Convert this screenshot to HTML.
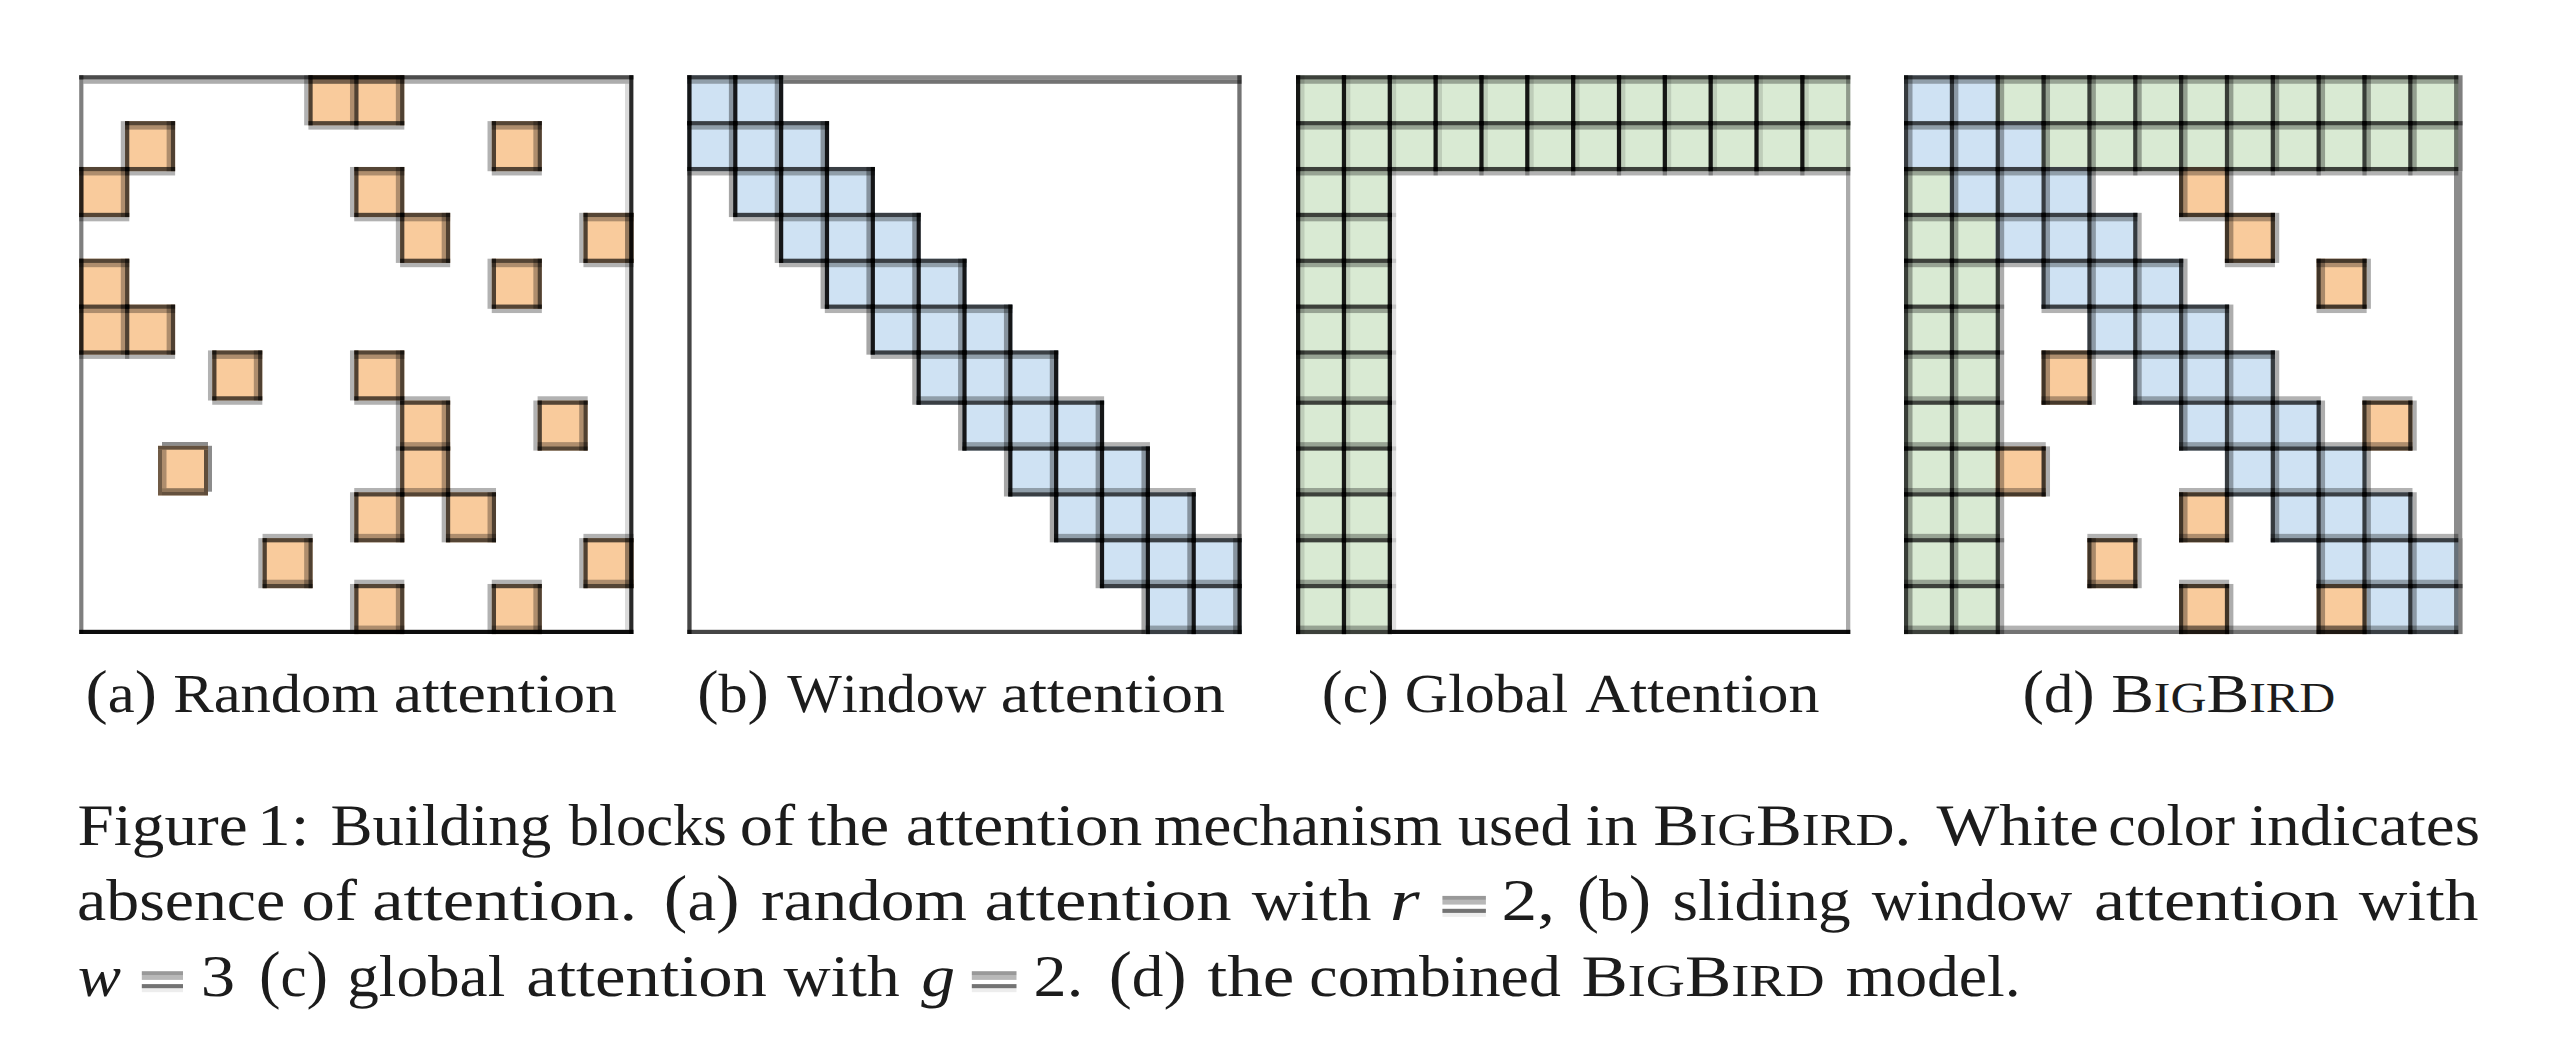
<!DOCTYPE html>
<html><head><meta charset="utf-8"><title>BigBird figure</title>
<style>
html,body{margin:0;padding:0;background:#fff;width:2550px;height:1038px;overflow:hidden}
svg{display:block}
text{font-family:"Liberation Serif",serif;fill:#1c1c1c;font-kerning:none;text-rendering:geometricPrecision}
</style></head>
<body>
<svg width="2550" height="1038" viewBox="0 0 2550 1038">
<rect x="0" y="0" width="2550" height="1038" fill="#fff"/>
<rect x="308.40" y="75.25" width="50.09" height="50.11" fill="#f9cb9c"/>
<rect x="354.24" y="75.25" width="50.09" height="50.11" fill="#f9cb9c"/>
<rect x="125.04" y="121.11" width="50.09" height="50.11" fill="#f9cb9c"/>
<rect x="491.76" y="121.11" width="50.09" height="50.11" fill="#f9cb9c"/>
<rect x="79.20" y="166.97" width="50.09" height="50.11" fill="#f9cb9c"/>
<rect x="354.24" y="166.97" width="50.09" height="50.11" fill="#f9cb9c"/>
<rect x="400.08" y="212.83" width="50.09" height="50.11" fill="#f9cb9c"/>
<rect x="583.44" y="212.83" width="50.09" height="50.11" fill="#f9cb9c"/>
<rect x="79.20" y="258.69" width="50.09" height="50.11" fill="#f9cb9c"/>
<rect x="491.76" y="258.69" width="50.09" height="50.11" fill="#f9cb9c"/>
<rect x="79.20" y="304.55" width="50.09" height="50.11" fill="#f9cb9c"/>
<rect x="125.04" y="304.55" width="50.09" height="50.11" fill="#f9cb9c"/>
<rect x="212.22" y="350.41" width="50.09" height="50.11" fill="#f9cb9c"/>
<rect x="354.24" y="350.41" width="50.09" height="50.11" fill="#f9cb9c"/>
<rect x="400.08" y="400.52" width="50.09" height="50.11" fill="#f9cb9c"/>
<rect x="537.60" y="400.52" width="50.09" height="50.11" fill="#f9cb9c"/>
<rect x="400.08" y="446.38" width="50.09" height="50.11" fill="#f9cb9c"/>
<rect x="354.24" y="492.24" width="50.09" height="50.11" fill="#f9cb9c"/>
<rect x="445.92" y="492.24" width="50.09" height="50.11" fill="#f9cb9c"/>
<rect x="262.56" y="538.10" width="50.09" height="50.11" fill="#f9cb9c"/>
<rect x="583.44" y="538.10" width="50.09" height="50.11" fill="#f9cb9c"/>
<rect x="354.24" y="583.96" width="50.09" height="50.11" fill="#f9cb9c"/>
<rect x="491.76" y="583.96" width="50.09" height="50.11" fill="#f9cb9c"/>
<rect x="308.40" y="79.50" width="50.09" height="4.25" fill="#000" fill-opacity="0.30"/>
<rect x="308.40" y="125.36" width="50.09" height="4.25" fill="#000" fill-opacity="0.30"/>
<rect x="354.24" y="79.50" width="50.09" height="4.25" fill="#000" fill-opacity="0.30"/>
<rect x="354.24" y="125.36" width="50.09" height="4.25" fill="#000" fill-opacity="0.30"/>
<rect x="125.04" y="125.36" width="50.09" height="4.25" fill="#000" fill-opacity="0.30"/>
<rect x="125.04" y="171.22" width="50.09" height="4.25" fill="#000" fill-opacity="0.30"/>
<rect x="491.76" y="125.36" width="50.09" height="4.25" fill="#000" fill-opacity="0.30"/>
<rect x="491.76" y="171.22" width="50.09" height="4.25" fill="#000" fill-opacity="0.30"/>
<rect x="79.20" y="171.22" width="50.09" height="4.25" fill="#000" fill-opacity="0.30"/>
<rect x="79.20" y="217.08" width="50.09" height="4.25" fill="#000" fill-opacity="0.30"/>
<rect x="354.24" y="171.22" width="50.09" height="4.25" fill="#000" fill-opacity="0.30"/>
<rect x="354.24" y="217.08" width="50.09" height="4.25" fill="#000" fill-opacity="0.30"/>
<rect x="400.08" y="217.08" width="50.09" height="4.25" fill="#000" fill-opacity="0.30"/>
<rect x="400.08" y="262.94" width="50.09" height="4.25" fill="#000" fill-opacity="0.30"/>
<rect x="583.44" y="217.08" width="50.09" height="4.25" fill="#000" fill-opacity="0.30"/>
<rect x="583.44" y="262.94" width="50.09" height="4.25" fill="#000" fill-opacity="0.30"/>
<rect x="79.20" y="262.94" width="50.09" height="4.25" fill="#000" fill-opacity="0.30"/>
<rect x="79.20" y="308.80" width="50.09" height="4.25" fill="#000" fill-opacity="0.30"/>
<rect x="491.76" y="262.94" width="50.09" height="4.25" fill="#000" fill-opacity="0.30"/>
<rect x="491.76" y="308.80" width="50.09" height="4.25" fill="#000" fill-opacity="0.30"/>
<rect x="79.20" y="354.66" width="50.09" height="4.25" fill="#000" fill-opacity="0.30"/>
<rect x="125.04" y="308.80" width="50.09" height="4.25" fill="#000" fill-opacity="0.30"/>
<rect x="125.04" y="354.66" width="50.09" height="4.25" fill="#000" fill-opacity="0.30"/>
<rect x="212.22" y="354.66" width="50.09" height="4.25" fill="#000" fill-opacity="0.30"/>
<rect x="212.22" y="400.52" width="50.09" height="4.25" fill="#000" fill-opacity="0.30"/>
<rect x="354.24" y="354.66" width="50.09" height="4.25" fill="#000" fill-opacity="0.30"/>
<rect x="354.24" y="400.52" width="50.09" height="4.25" fill="#000" fill-opacity="0.30"/>
<rect x="400.08" y="396.27" width="50.09" height="4.25" fill="#000" fill-opacity="0.30"/>
<rect x="400.08" y="442.13" width="50.09" height="4.25" fill="#000" fill-opacity="0.30"/>
<rect x="537.60" y="396.27" width="50.09" height="4.25" fill="#000" fill-opacity="0.30"/>
<rect x="537.60" y="442.13" width="50.09" height="4.25" fill="#000" fill-opacity="0.30"/>
<rect x="400.08" y="487.99" width="50.09" height="4.25" fill="#000" fill-opacity="0.30"/>
<rect x="354.24" y="487.99" width="50.09" height="4.25" fill="#000" fill-opacity="0.30"/>
<rect x="354.24" y="533.85" width="50.09" height="4.25" fill="#000" fill-opacity="0.30"/>
<rect x="445.92" y="487.99" width="50.09" height="4.25" fill="#000" fill-opacity="0.30"/>
<rect x="445.92" y="533.85" width="50.09" height="4.25" fill="#000" fill-opacity="0.30"/>
<rect x="262.56" y="533.85" width="50.09" height="4.25" fill="#000" fill-opacity="0.30"/>
<rect x="262.56" y="579.71" width="50.09" height="4.25" fill="#000" fill-opacity="0.30"/>
<rect x="583.44" y="533.85" width="50.09" height="4.25" fill="#000" fill-opacity="0.30"/>
<rect x="583.44" y="579.71" width="50.09" height="4.25" fill="#000" fill-opacity="0.30"/>
<rect x="354.24" y="579.71" width="50.09" height="4.25" fill="#000" fill-opacity="0.30"/>
<rect x="354.24" y="625.57" width="50.09" height="4.25" fill="#000" fill-opacity="0.30"/>
<rect x="491.76" y="579.71" width="50.09" height="4.25" fill="#000" fill-opacity="0.30"/>
<rect x="491.76" y="625.57" width="50.09" height="4.25" fill="#000" fill-opacity="0.30"/>
<rect x="304.15" y="75.25" width="4.25" height="50.11" fill="#000" fill-opacity="0.30"/>
<rect x="349.99" y="75.25" width="4.25" height="50.11" fill="#000" fill-opacity="0.30"/>
<rect x="395.83" y="75.25" width="4.25" height="50.11" fill="#000" fill-opacity="0.30"/>
<rect x="120.79" y="121.11" width="4.25" height="50.11" fill="#000" fill-opacity="0.30"/>
<rect x="166.63" y="121.11" width="4.25" height="50.11" fill="#000" fill-opacity="0.30"/>
<rect x="487.51" y="121.11" width="4.25" height="50.11" fill="#000" fill-opacity="0.30"/>
<rect x="533.35" y="121.11" width="4.25" height="50.11" fill="#000" fill-opacity="0.30"/>
<rect x="120.79" y="166.97" width="4.25" height="50.11" fill="#000" fill-opacity="0.30"/>
<rect x="349.99" y="166.97" width="4.25" height="50.11" fill="#000" fill-opacity="0.30"/>
<rect x="395.83" y="166.97" width="4.25" height="50.11" fill="#000" fill-opacity="0.30"/>
<rect x="395.83" y="212.83" width="4.25" height="50.11" fill="#000" fill-opacity="0.30"/>
<rect x="441.67" y="212.83" width="4.25" height="50.11" fill="#000" fill-opacity="0.30"/>
<rect x="579.19" y="212.83" width="4.25" height="50.11" fill="#000" fill-opacity="0.30"/>
<rect x="625.03" y="212.83" width="4.25" height="50.11" fill="#000" fill-opacity="0.30"/>
<rect x="120.79" y="258.69" width="4.25" height="50.11" fill="#000" fill-opacity="0.30"/>
<rect x="487.51" y="258.69" width="4.25" height="50.11" fill="#000" fill-opacity="0.30"/>
<rect x="533.35" y="258.69" width="4.25" height="50.11" fill="#000" fill-opacity="0.30"/>
<rect x="120.79" y="304.55" width="4.25" height="50.11" fill="#000" fill-opacity="0.30"/>
<rect x="166.63" y="304.55" width="4.25" height="50.11" fill="#000" fill-opacity="0.30"/>
<rect x="207.97" y="350.41" width="4.25" height="50.11" fill="#000" fill-opacity="0.30"/>
<rect x="253.81" y="350.41" width="4.25" height="50.11" fill="#000" fill-opacity="0.30"/>
<rect x="349.99" y="350.41" width="4.25" height="50.11" fill="#000" fill-opacity="0.30"/>
<rect x="395.83" y="350.41" width="4.25" height="50.11" fill="#000" fill-opacity="0.30"/>
<rect x="395.83" y="400.52" width="4.25" height="50.11" fill="#000" fill-opacity="0.30"/>
<rect x="441.67" y="400.52" width="4.25" height="50.11" fill="#000" fill-opacity="0.30"/>
<rect x="533.35" y="400.52" width="4.25" height="50.11" fill="#000" fill-opacity="0.30"/>
<rect x="579.19" y="400.52" width="4.25" height="50.11" fill="#000" fill-opacity="0.30"/>
<rect x="395.83" y="446.38" width="4.25" height="50.11" fill="#000" fill-opacity="0.30"/>
<rect x="441.67" y="446.38" width="4.25" height="50.11" fill="#000" fill-opacity="0.30"/>
<rect x="349.99" y="492.24" width="4.25" height="50.11" fill="#000" fill-opacity="0.30"/>
<rect x="395.83" y="492.24" width="4.25" height="50.11" fill="#000" fill-opacity="0.30"/>
<rect x="441.67" y="492.24" width="4.25" height="50.11" fill="#000" fill-opacity="0.30"/>
<rect x="487.51" y="492.24" width="4.25" height="50.11" fill="#000" fill-opacity="0.30"/>
<rect x="258.31" y="538.10" width="4.25" height="50.11" fill="#000" fill-opacity="0.30"/>
<rect x="304.15" y="538.10" width="4.25" height="50.11" fill="#000" fill-opacity="0.30"/>
<rect x="579.19" y="538.10" width="4.25" height="50.11" fill="#000" fill-opacity="0.30"/>
<rect x="625.03" y="538.10" width="4.25" height="50.11" fill="#000" fill-opacity="0.30"/>
<rect x="349.99" y="583.96" width="4.25" height="50.11" fill="#000" fill-opacity="0.30"/>
<rect x="395.83" y="583.96" width="4.25" height="50.11" fill="#000" fill-opacity="0.30"/>
<rect x="487.51" y="583.96" width="4.25" height="50.11" fill="#000" fill-opacity="0.30"/>
<rect x="533.35" y="583.96" width="4.25" height="50.11" fill="#000" fill-opacity="0.30"/>
<rect x="308.40" y="75.25" width="50.09" height="4.25" fill="#000" fill-opacity="0.66"/>
<rect x="308.40" y="121.11" width="50.09" height="4.25" fill="#000" fill-opacity="0.66"/>
<rect x="354.24" y="75.25" width="50.09" height="4.25" fill="#000" fill-opacity="0.66"/>
<rect x="354.24" y="121.11" width="50.09" height="4.25" fill="#000" fill-opacity="0.66"/>
<rect x="125.04" y="121.11" width="50.09" height="4.25" fill="#000" fill-opacity="0.66"/>
<rect x="125.04" y="166.97" width="50.09" height="4.25" fill="#000" fill-opacity="0.66"/>
<rect x="491.76" y="121.11" width="50.09" height="4.25" fill="#000" fill-opacity="0.66"/>
<rect x="491.76" y="166.97" width="50.09" height="4.25" fill="#000" fill-opacity="0.66"/>
<rect x="79.20" y="166.97" width="50.09" height="4.25" fill="#000" fill-opacity="0.66"/>
<rect x="79.20" y="212.83" width="50.09" height="4.25" fill="#000" fill-opacity="0.66"/>
<rect x="354.24" y="166.97" width="50.09" height="4.25" fill="#000" fill-opacity="0.66"/>
<rect x="354.24" y="212.83" width="50.09" height="4.25" fill="#000" fill-opacity="0.66"/>
<rect x="400.08" y="212.83" width="50.09" height="4.25" fill="#000" fill-opacity="0.66"/>
<rect x="400.08" y="258.69" width="50.09" height="4.25" fill="#000" fill-opacity="0.66"/>
<rect x="583.44" y="212.83" width="50.09" height="4.25" fill="#000" fill-opacity="0.66"/>
<rect x="583.44" y="258.69" width="50.09" height="4.25" fill="#000" fill-opacity="0.66"/>
<rect x="79.20" y="258.69" width="50.09" height="4.25" fill="#000" fill-opacity="0.66"/>
<rect x="79.20" y="304.55" width="50.09" height="4.25" fill="#000" fill-opacity="0.66"/>
<rect x="491.76" y="258.69" width="50.09" height="4.25" fill="#000" fill-opacity="0.66"/>
<rect x="491.76" y="304.55" width="50.09" height="4.25" fill="#000" fill-opacity="0.66"/>
<rect x="79.20" y="350.41" width="50.09" height="4.25" fill="#000" fill-opacity="0.66"/>
<rect x="125.04" y="304.55" width="50.09" height="4.25" fill="#000" fill-opacity="0.66"/>
<rect x="125.04" y="350.41" width="50.09" height="4.25" fill="#000" fill-opacity="0.66"/>
<rect x="212.22" y="350.41" width="50.09" height="4.25" fill="#000" fill-opacity="0.66"/>
<rect x="212.22" y="396.27" width="50.09" height="4.25" fill="#000" fill-opacity="0.66"/>
<rect x="354.24" y="350.41" width="50.09" height="4.25" fill="#000" fill-opacity="0.66"/>
<rect x="354.24" y="396.27" width="50.09" height="4.25" fill="#000" fill-opacity="0.66"/>
<rect x="400.08" y="400.52" width="50.09" height="4.25" fill="#000" fill-opacity="0.66"/>
<rect x="400.08" y="446.38" width="50.09" height="4.25" fill="#000" fill-opacity="0.66"/>
<rect x="537.60" y="400.52" width="50.09" height="4.25" fill="#000" fill-opacity="0.66"/>
<rect x="537.60" y="446.38" width="50.09" height="4.25" fill="#000" fill-opacity="0.66"/>
<rect x="400.08" y="492.24" width="50.09" height="4.25" fill="#000" fill-opacity="0.66"/>
<rect x="354.24" y="492.24" width="50.09" height="4.25" fill="#000" fill-opacity="0.66"/>
<rect x="354.24" y="538.10" width="50.09" height="4.25" fill="#000" fill-opacity="0.66"/>
<rect x="445.92" y="492.24" width="50.09" height="4.25" fill="#000" fill-opacity="0.66"/>
<rect x="445.92" y="538.10" width="50.09" height="4.25" fill="#000" fill-opacity="0.66"/>
<rect x="262.56" y="538.10" width="50.09" height="4.25" fill="#000" fill-opacity="0.66"/>
<rect x="262.56" y="583.96" width="50.09" height="4.25" fill="#000" fill-opacity="0.66"/>
<rect x="583.44" y="538.10" width="50.09" height="4.25" fill="#000" fill-opacity="0.66"/>
<rect x="583.44" y="583.96" width="50.09" height="4.25" fill="#000" fill-opacity="0.66"/>
<rect x="354.24" y="583.96" width="50.09" height="4.25" fill="#000" fill-opacity="0.66"/>
<rect x="354.24" y="629.82" width="50.09" height="4.25" fill="#000" fill-opacity="0.66"/>
<rect x="491.76" y="583.96" width="50.09" height="4.25" fill="#000" fill-opacity="0.66"/>
<rect x="491.76" y="629.82" width="50.09" height="4.25" fill="#000" fill-opacity="0.66"/>
<rect x="308.40" y="75.25" width="4.25" height="50.11" fill="#000" fill-opacity="0.68"/>
<rect x="354.24" y="75.25" width="4.25" height="50.11" fill="#000" fill-opacity="0.68"/>
<rect x="400.08" y="75.25" width="4.25" height="50.11" fill="#000" fill-opacity="0.68"/>
<rect x="125.04" y="121.11" width="4.25" height="50.11" fill="#000" fill-opacity="0.68"/>
<rect x="170.88" y="121.11" width="4.25" height="50.11" fill="#000" fill-opacity="0.68"/>
<rect x="491.76" y="121.11" width="4.25" height="50.11" fill="#000" fill-opacity="0.68"/>
<rect x="537.60" y="121.11" width="4.25" height="50.11" fill="#000" fill-opacity="0.68"/>
<rect x="79.20" y="166.97" width="4.25" height="50.11" fill="#000" fill-opacity="0.68"/>
<rect x="125.04" y="166.97" width="4.25" height="50.11" fill="#000" fill-opacity="0.68"/>
<rect x="354.24" y="166.97" width="4.25" height="50.11" fill="#000" fill-opacity="0.68"/>
<rect x="400.08" y="166.97" width="4.25" height="50.11" fill="#000" fill-opacity="0.68"/>
<rect x="400.08" y="212.83" width="4.25" height="50.11" fill="#000" fill-opacity="0.68"/>
<rect x="445.92" y="212.83" width="4.25" height="50.11" fill="#000" fill-opacity="0.68"/>
<rect x="583.44" y="212.83" width="4.25" height="50.11" fill="#000" fill-opacity="0.68"/>
<rect x="629.28" y="212.83" width="4.25" height="50.11" fill="#000" fill-opacity="0.68"/>
<rect x="79.20" y="258.69" width="4.25" height="50.11" fill="#000" fill-opacity="0.68"/>
<rect x="125.04" y="258.69" width="4.25" height="50.11" fill="#000" fill-opacity="0.68"/>
<rect x="491.76" y="258.69" width="4.25" height="50.11" fill="#000" fill-opacity="0.68"/>
<rect x="537.60" y="258.69" width="4.25" height="50.11" fill="#000" fill-opacity="0.68"/>
<rect x="79.20" y="304.55" width="4.25" height="50.11" fill="#000" fill-opacity="0.68"/>
<rect x="125.04" y="304.55" width="4.25" height="50.11" fill="#000" fill-opacity="0.68"/>
<rect x="170.88" y="304.55" width="4.25" height="50.11" fill="#000" fill-opacity="0.68"/>
<rect x="212.22" y="350.41" width="4.25" height="50.11" fill="#000" fill-opacity="0.68"/>
<rect x="258.06" y="350.41" width="4.25" height="50.11" fill="#000" fill-opacity="0.68"/>
<rect x="354.24" y="350.41" width="4.25" height="50.11" fill="#000" fill-opacity="0.68"/>
<rect x="400.08" y="350.41" width="4.25" height="50.11" fill="#000" fill-opacity="0.68"/>
<rect x="400.08" y="400.52" width="4.25" height="50.11" fill="#000" fill-opacity="0.68"/>
<rect x="445.92" y="400.52" width="4.25" height="50.11" fill="#000" fill-opacity="0.68"/>
<rect x="537.60" y="400.52" width="4.25" height="50.11" fill="#000" fill-opacity="0.68"/>
<rect x="583.44" y="400.52" width="4.25" height="50.11" fill="#000" fill-opacity="0.68"/>
<rect x="400.08" y="446.38" width="4.25" height="50.11" fill="#000" fill-opacity="0.68"/>
<rect x="445.92" y="446.38" width="4.25" height="50.11" fill="#000" fill-opacity="0.68"/>
<rect x="354.24" y="492.24" width="4.25" height="50.11" fill="#000" fill-opacity="0.68"/>
<rect x="400.08" y="492.24" width="4.25" height="50.11" fill="#000" fill-opacity="0.68"/>
<rect x="445.92" y="492.24" width="4.25" height="50.11" fill="#000" fill-opacity="0.68"/>
<rect x="491.76" y="492.24" width="4.25" height="50.11" fill="#000" fill-opacity="0.68"/>
<rect x="262.56" y="538.10" width="4.25" height="50.11" fill="#000" fill-opacity="0.68"/>
<rect x="308.40" y="538.10" width="4.25" height="50.11" fill="#000" fill-opacity="0.68"/>
<rect x="583.44" y="538.10" width="4.25" height="50.11" fill="#000" fill-opacity="0.68"/>
<rect x="629.28" y="538.10" width="4.25" height="50.11" fill="#000" fill-opacity="0.68"/>
<rect x="354.24" y="583.96" width="4.25" height="50.11" fill="#000" fill-opacity="0.68"/>
<rect x="400.08" y="583.96" width="4.25" height="50.11" fill="#000" fill-opacity="0.68"/>
<rect x="491.76" y="583.96" width="4.25" height="50.11" fill="#000" fill-opacity="0.68"/>
<rect x="537.60" y="583.96" width="4.25" height="50.11" fill="#000" fill-opacity="0.68"/>
<rect x="158.00" y="445.80" width="50.00" height="49.70" fill="#f9cb9c"/>
<rect x="162.00" y="442.00" width="46.00" height="3.80" fill="#000" fill-opacity="0.45"/>
<rect x="158.00" y="445.80" width="50.00" height="3.90" fill="#000" fill-opacity="0.60"/>
<rect x="158.00" y="449.70" width="4.00" height="45.80" fill="#000" fill-opacity="0.55"/>
<rect x="162.00" y="449.70" width="4.50" height="38.50" fill="#000" fill-opacity="0.30"/>
<rect x="204.00" y="449.70" width="4.00" height="45.80" fill="#000" fill-opacity="0.62"/>
<rect x="208.00" y="445.80" width="4.00" height="45.90" fill="#000" fill-opacity="0.45"/>
<rect x="162.00" y="488.20" width="42.00" height="3.50" fill="#000" fill-opacity="0.42"/>
<rect x="162.00" y="491.70" width="42.00" height="3.80" fill="#000" fill-opacity="0.60"/>
<rect x="79.20" y="75.20" width="554.20" height="4.30" fill="#000" fill-opacity="0.70"/>
<rect x="83.40" y="79.50" width="545.80" height="4.30" fill="#000" fill-opacity="0.32"/>
<rect x="79.20" y="75.20" width="4.20" height="558.80" fill="#000" fill-opacity="0.50"/>
<rect x="629.20" y="75.20" width="4.20" height="558.80" fill="#000" fill-opacity="0.84"/>
<rect x="625.00" y="83.80" width="4.20" height="546.00" fill="#000" fill-opacity="0.14"/>
<rect x="79.20" y="629.80" width="554.20" height="4.20" fill="#000" fill-opacity="0.95"/>
<rect x="687.30" y="75.20" width="554.30" height="4.30" fill="#000" fill-opacity="0.46"/>
<rect x="687.30" y="79.50" width="554.30" height="4.30" fill="#000" fill-opacity="0.55"/>
<rect x="687.30" y="75.20" width="4.30" height="558.80" fill="#000" fill-opacity="0.73"/>
<rect x="1237.30" y="75.20" width="4.30" height="558.80" fill="#000" fill-opacity="0.55"/>
<rect x="687.30" y="629.80" width="554.30" height="4.20" fill="#000" fill-opacity="0.73"/>
<rect x="687.30" y="75.25" width="50.09" height="50.11" fill="#cfe2f3"/>
<rect x="733.14" y="75.25" width="50.09" height="50.11" fill="#cfe2f3"/>
<rect x="687.30" y="121.11" width="50.09" height="50.11" fill="#cfe2f3"/>
<rect x="733.14" y="121.11" width="50.09" height="50.11" fill="#cfe2f3"/>
<rect x="778.98" y="121.11" width="50.09" height="50.11" fill="#cfe2f3"/>
<rect x="733.14" y="166.97" width="50.09" height="50.11" fill="#cfe2f3"/>
<rect x="778.98" y="166.97" width="50.09" height="50.11" fill="#cfe2f3"/>
<rect x="824.82" y="166.97" width="50.09" height="50.11" fill="#cfe2f3"/>
<rect x="778.98" y="212.83" width="50.09" height="50.11" fill="#cfe2f3"/>
<rect x="824.82" y="212.83" width="50.09" height="50.11" fill="#cfe2f3"/>
<rect x="870.66" y="212.83" width="50.09" height="50.11" fill="#cfe2f3"/>
<rect x="824.82" y="258.69" width="50.09" height="50.11" fill="#cfe2f3"/>
<rect x="870.66" y="258.69" width="50.09" height="50.11" fill="#cfe2f3"/>
<rect x="916.50" y="258.69" width="50.09" height="50.11" fill="#cfe2f3"/>
<rect x="870.66" y="304.55" width="50.09" height="50.11" fill="#cfe2f3"/>
<rect x="916.50" y="304.55" width="50.09" height="50.11" fill="#cfe2f3"/>
<rect x="962.34" y="304.55" width="50.09" height="50.11" fill="#cfe2f3"/>
<rect x="916.50" y="350.41" width="50.09" height="54.36" fill="#cfe2f3"/>
<rect x="962.34" y="350.41" width="50.09" height="54.36" fill="#cfe2f3"/>
<rect x="1008.18" y="350.41" width="50.09" height="54.36" fill="#cfe2f3"/>
<rect x="962.34" y="400.52" width="50.09" height="50.11" fill="#cfe2f3"/>
<rect x="1008.18" y="400.52" width="50.09" height="50.11" fill="#cfe2f3"/>
<rect x="1054.02" y="400.52" width="50.09" height="50.11" fill="#cfe2f3"/>
<rect x="1008.18" y="446.38" width="50.09" height="50.11" fill="#cfe2f3"/>
<rect x="1054.02" y="446.38" width="50.09" height="50.11" fill="#cfe2f3"/>
<rect x="1099.86" y="446.38" width="50.09" height="50.11" fill="#cfe2f3"/>
<rect x="1054.02" y="492.24" width="50.09" height="50.11" fill="#cfe2f3"/>
<rect x="1099.86" y="492.24" width="50.09" height="50.11" fill="#cfe2f3"/>
<rect x="1145.70" y="492.24" width="50.09" height="50.11" fill="#cfe2f3"/>
<rect x="1099.86" y="538.10" width="50.09" height="50.11" fill="#cfe2f3"/>
<rect x="1145.70" y="538.10" width="50.09" height="50.11" fill="#cfe2f3"/>
<rect x="1191.54" y="538.10" width="50.09" height="50.11" fill="#cfe2f3"/>
<rect x="1145.70" y="583.96" width="50.09" height="50.11" fill="#cfe2f3"/>
<rect x="1191.54" y="583.96" width="50.09" height="50.11" fill="#cfe2f3"/>
<rect x="870.66" y="217.08" width="50.09" height="4.25" fill="#000" fill-opacity="0.30"/>
<rect x="824.82" y="262.94" width="50.09" height="4.25" fill="#000" fill-opacity="0.30"/>
<rect x="733.14" y="217.08" width="50.09" height="4.25" fill="#000" fill-opacity="0.30"/>
<rect x="1145.70" y="625.57" width="50.09" height="4.25" fill="#000" fill-opacity="0.30"/>
<rect x="870.66" y="308.80" width="50.09" height="4.25" fill="#000" fill-opacity="0.30"/>
<rect x="1099.86" y="442.13" width="50.09" height="4.25" fill="#000" fill-opacity="0.30"/>
<rect x="1054.02" y="487.99" width="50.09" height="4.25" fill="#000" fill-opacity="0.30"/>
<rect x="962.34" y="442.13" width="50.09" height="4.25" fill="#000" fill-opacity="0.30"/>
<rect x="778.98" y="171.22" width="50.09" height="4.25" fill="#000" fill-opacity="0.30"/>
<rect x="687.30" y="125.36" width="50.09" height="4.25" fill="#000" fill-opacity="0.30"/>
<rect x="1099.86" y="533.85" width="50.09" height="4.25" fill="#000" fill-opacity="0.30"/>
<rect x="1191.54" y="579.71" width="50.09" height="4.25" fill="#000" fill-opacity="0.30"/>
<rect x="1008.18" y="396.27" width="50.09" height="4.25" fill="#000" fill-opacity="0.30"/>
<rect x="916.50" y="354.66" width="50.09" height="4.25" fill="#000" fill-opacity="0.30"/>
<rect x="778.98" y="262.94" width="50.09" height="4.25" fill="#000" fill-opacity="0.30"/>
<rect x="916.50" y="262.94" width="50.09" height="4.25" fill="#000" fill-opacity="0.30"/>
<rect x="824.82" y="217.08" width="50.09" height="4.25" fill="#000" fill-opacity="0.30"/>
<rect x="962.34" y="308.80" width="50.09" height="4.25" fill="#000" fill-opacity="0.30"/>
<rect x="824.82" y="308.80" width="50.09" height="4.25" fill="#000" fill-opacity="0.30"/>
<rect x="1008.18" y="487.99" width="50.09" height="4.25" fill="#000" fill-opacity="0.30"/>
<rect x="733.14" y="79.50" width="50.09" height="4.25" fill="#000" fill-opacity="0.30"/>
<rect x="1054.02" y="442.13" width="50.09" height="4.25" fill="#000" fill-opacity="0.30"/>
<rect x="1145.70" y="487.99" width="50.09" height="4.25" fill="#000" fill-opacity="0.30"/>
<rect x="778.98" y="125.36" width="50.09" height="4.25" fill="#000" fill-opacity="0.30"/>
<rect x="1191.54" y="533.85" width="50.09" height="4.25" fill="#000" fill-opacity="0.30"/>
<rect x="733.14" y="171.22" width="50.09" height="4.25" fill="#000" fill-opacity="0.30"/>
<rect x="1054.02" y="533.85" width="50.09" height="4.25" fill="#000" fill-opacity="0.30"/>
<rect x="1145.70" y="579.71" width="50.09" height="4.25" fill="#000" fill-opacity="0.30"/>
<rect x="870.66" y="354.66" width="50.09" height="4.25" fill="#000" fill-opacity="0.30"/>
<rect x="1008.18" y="354.66" width="50.09" height="4.25" fill="#000" fill-opacity="0.30"/>
<rect x="962.34" y="396.27" width="50.09" height="4.25" fill="#000" fill-opacity="0.30"/>
<rect x="778.98" y="217.08" width="50.09" height="4.25" fill="#000" fill-opacity="0.30"/>
<rect x="1191.54" y="625.57" width="50.09" height="4.25" fill="#000" fill-opacity="0.30"/>
<rect x="870.66" y="262.94" width="50.09" height="4.25" fill="#000" fill-opacity="0.30"/>
<rect x="916.50" y="308.80" width="50.09" height="4.25" fill="#000" fill-opacity="0.30"/>
<rect x="687.30" y="79.50" width="50.09" height="4.25" fill="#000" fill-opacity="0.30"/>
<rect x="1008.18" y="442.13" width="50.09" height="4.25" fill="#000" fill-opacity="0.30"/>
<rect x="1099.86" y="487.99" width="50.09" height="4.25" fill="#000" fill-opacity="0.30"/>
<rect x="733.14" y="125.36" width="50.09" height="4.25" fill="#000" fill-opacity="0.30"/>
<rect x="687.30" y="171.22" width="50.09" height="4.25" fill="#000" fill-opacity="0.30"/>
<rect x="1099.86" y="579.71" width="50.09" height="4.25" fill="#000" fill-opacity="0.30"/>
<rect x="824.82" y="171.22" width="50.09" height="4.25" fill="#000" fill-opacity="0.30"/>
<rect x="1145.70" y="533.85" width="50.09" height="4.25" fill="#000" fill-opacity="0.30"/>
<rect x="962.34" y="354.66" width="50.09" height="4.25" fill="#000" fill-opacity="0.30"/>
<rect x="916.50" y="396.27" width="50.09" height="4.25" fill="#000" fill-opacity="0.30"/>
<rect x="1054.02" y="396.27" width="50.09" height="4.25" fill="#000" fill-opacity="0.30"/>
<rect x="820.57" y="258.69" width="4.25" height="50.11" fill="#000" fill-opacity="0.35"/>
<rect x="866.41" y="212.83" width="4.25" height="50.11" fill="#000" fill-opacity="0.35"/>
<rect x="820.57" y="121.11" width="4.25" height="50.11" fill="#000" fill-opacity="0.35"/>
<rect x="1233.13" y="538.10" width="4.25" height="50.11" fill="#000" fill-opacity="0.35"/>
<rect x="912.25" y="258.69" width="4.25" height="50.11" fill="#000" fill-opacity="0.35"/>
<rect x="1049.77" y="492.24" width="4.25" height="50.11" fill="#000" fill-opacity="0.35"/>
<rect x="1095.61" y="446.38" width="4.25" height="50.11" fill="#000" fill-opacity="0.35"/>
<rect x="1049.77" y="350.41" width="4.25" height="54.36" fill="#000" fill-opacity="0.35"/>
<rect x="774.73" y="166.97" width="4.25" height="50.11" fill="#000" fill-opacity="0.35"/>
<rect x="728.89" y="75.25" width="4.25" height="50.11" fill="#000" fill-opacity="0.35"/>
<rect x="1141.45" y="492.24" width="4.25" height="50.11" fill="#000" fill-opacity="0.35"/>
<rect x="1187.29" y="583.96" width="4.25" height="50.11" fill="#000" fill-opacity="0.35"/>
<rect x="1003.93" y="400.52" width="4.25" height="50.11" fill="#000" fill-opacity="0.35"/>
<rect x="958.09" y="304.55" width="4.25" height="50.11" fill="#000" fill-opacity="0.35"/>
<rect x="866.41" y="166.97" width="4.25" height="50.11" fill="#000" fill-opacity="0.35"/>
<rect x="866.41" y="304.55" width="4.25" height="50.11" fill="#000" fill-opacity="0.35"/>
<rect x="820.57" y="212.83" width="4.25" height="50.11" fill="#000" fill-opacity="0.35"/>
<rect x="912.25" y="350.41" width="4.25" height="54.36" fill="#000" fill-opacity="0.35"/>
<rect x="912.25" y="212.83" width="4.25" height="50.11" fill="#000" fill-opacity="0.35"/>
<rect x="1095.61" y="400.52" width="4.25" height="50.11" fill="#000" fill-opacity="0.35"/>
<rect x="1049.77" y="446.38" width="4.25" height="50.11" fill="#000" fill-opacity="0.35"/>
<rect x="1095.61" y="538.10" width="4.25" height="50.11" fill="#000" fill-opacity="0.35"/>
<rect x="728.89" y="166.97" width="4.25" height="50.11" fill="#000" fill-opacity="0.35"/>
<rect x="1141.45" y="583.96" width="4.25" height="50.11" fill="#000" fill-opacity="0.35"/>
<rect x="774.73" y="121.11" width="4.25" height="50.11" fill="#000" fill-opacity="0.35"/>
<rect x="1141.45" y="446.38" width="4.25" height="50.11" fill="#000" fill-opacity="0.35"/>
<rect x="1187.29" y="538.10" width="4.25" height="50.11" fill="#000" fill-opacity="0.35"/>
<rect x="958.09" y="258.69" width="4.25" height="50.11" fill="#000" fill-opacity="0.35"/>
<rect x="958.09" y="400.52" width="4.25" height="50.11" fill="#000" fill-opacity="0.35"/>
<rect x="1003.93" y="350.41" width="4.25" height="54.36" fill="#000" fill-opacity="0.35"/>
<rect x="820.57" y="166.97" width="4.25" height="50.11" fill="#000" fill-opacity="0.35"/>
<rect x="1233.13" y="583.96" width="4.25" height="50.11" fill="#000" fill-opacity="0.35"/>
<rect x="866.41" y="258.69" width="4.25" height="50.11" fill="#000" fill-opacity="0.35"/>
<rect x="912.25" y="304.55" width="4.25" height="50.11" fill="#000" fill-opacity="0.35"/>
<rect x="1049.77" y="400.52" width="4.25" height="50.11" fill="#000" fill-opacity="0.35"/>
<rect x="1095.61" y="492.24" width="4.25" height="50.11" fill="#000" fill-opacity="0.35"/>
<rect x="728.89" y="121.11" width="4.25" height="50.11" fill="#000" fill-opacity="0.35"/>
<rect x="774.73" y="75.25" width="4.25" height="50.11" fill="#000" fill-opacity="0.35"/>
<rect x="1187.29" y="492.24" width="4.25" height="50.11" fill="#000" fill-opacity="0.35"/>
<rect x="774.73" y="212.83" width="4.25" height="50.11" fill="#000" fill-opacity="0.35"/>
<rect x="1141.45" y="538.10" width="4.25" height="50.11" fill="#000" fill-opacity="0.35"/>
<rect x="958.09" y="350.41" width="4.25" height="54.36" fill="#000" fill-opacity="0.35"/>
<rect x="1003.93" y="304.55" width="4.25" height="50.11" fill="#000" fill-opacity="0.35"/>
<rect x="1003.93" y="446.38" width="4.25" height="50.11" fill="#000" fill-opacity="0.35"/>
<rect x="870.66" y="212.83" width="50.09" height="4.25" fill="#000" fill-opacity="0.72"/>
<rect x="824.82" y="258.69" width="50.09" height="4.25" fill="#000" fill-opacity="0.72"/>
<rect x="733.14" y="212.83" width="50.09" height="4.25" fill="#000" fill-opacity="0.72"/>
<rect x="1145.70" y="629.82" width="50.09" height="4.25" fill="#000" fill-opacity="0.72"/>
<rect x="870.66" y="304.55" width="50.09" height="4.25" fill="#000" fill-opacity="0.72"/>
<rect x="1099.86" y="446.38" width="50.09" height="4.25" fill="#000" fill-opacity="0.72"/>
<rect x="1054.02" y="492.24" width="50.09" height="4.25" fill="#000" fill-opacity="0.72"/>
<rect x="962.34" y="446.38" width="50.09" height="4.25" fill="#000" fill-opacity="0.72"/>
<rect x="778.98" y="166.97" width="50.09" height="4.25" fill="#000" fill-opacity="0.72"/>
<rect x="687.30" y="121.11" width="50.09" height="4.25" fill="#000" fill-opacity="0.72"/>
<rect x="1099.86" y="538.10" width="50.09" height="4.25" fill="#000" fill-opacity="0.72"/>
<rect x="1191.54" y="583.96" width="50.09" height="4.25" fill="#000" fill-opacity="0.72"/>
<rect x="1008.18" y="400.52" width="50.09" height="4.25" fill="#000" fill-opacity="0.72"/>
<rect x="916.50" y="350.41" width="50.09" height="4.25" fill="#000" fill-opacity="0.72"/>
<rect x="778.98" y="258.69" width="50.09" height="4.25" fill="#000" fill-opacity="0.72"/>
<rect x="916.50" y="258.69" width="50.09" height="4.25" fill="#000" fill-opacity="0.72"/>
<rect x="824.82" y="212.83" width="50.09" height="4.25" fill="#000" fill-opacity="0.72"/>
<rect x="962.34" y="304.55" width="50.09" height="4.25" fill="#000" fill-opacity="0.72"/>
<rect x="824.82" y="304.55" width="50.09" height="4.25" fill="#000" fill-opacity="0.72"/>
<rect x="1008.18" y="492.24" width="50.09" height="4.25" fill="#000" fill-opacity="0.72"/>
<rect x="733.14" y="75.25" width="50.09" height="4.25" fill="#000" fill-opacity="0.72"/>
<rect x="1054.02" y="446.38" width="50.09" height="4.25" fill="#000" fill-opacity="0.72"/>
<rect x="1145.70" y="492.24" width="50.09" height="4.25" fill="#000" fill-opacity="0.72"/>
<rect x="778.98" y="121.11" width="50.09" height="4.25" fill="#000" fill-opacity="0.72"/>
<rect x="1191.54" y="538.10" width="50.09" height="4.25" fill="#000" fill-opacity="0.72"/>
<rect x="733.14" y="166.97" width="50.09" height="4.25" fill="#000" fill-opacity="0.72"/>
<rect x="1054.02" y="538.10" width="50.09" height="4.25" fill="#000" fill-opacity="0.72"/>
<rect x="1145.70" y="583.96" width="50.09" height="4.25" fill="#000" fill-opacity="0.72"/>
<rect x="870.66" y="350.41" width="50.09" height="4.25" fill="#000" fill-opacity="0.72"/>
<rect x="1008.18" y="350.41" width="50.09" height="4.25" fill="#000" fill-opacity="0.72"/>
<rect x="962.34" y="400.52" width="50.09" height="4.25" fill="#000" fill-opacity="0.72"/>
<rect x="778.98" y="212.83" width="50.09" height="4.25" fill="#000" fill-opacity="0.72"/>
<rect x="1191.54" y="629.82" width="50.09" height="4.25" fill="#000" fill-opacity="0.72"/>
<rect x="870.66" y="258.69" width="50.09" height="4.25" fill="#000" fill-opacity="0.72"/>
<rect x="916.50" y="304.55" width="50.09" height="4.25" fill="#000" fill-opacity="0.72"/>
<rect x="687.30" y="75.25" width="50.09" height="4.25" fill="#000" fill-opacity="0.72"/>
<rect x="1008.18" y="446.38" width="50.09" height="4.25" fill="#000" fill-opacity="0.72"/>
<rect x="1099.86" y="492.24" width="50.09" height="4.25" fill="#000" fill-opacity="0.72"/>
<rect x="733.14" y="121.11" width="50.09" height="4.25" fill="#000" fill-opacity="0.72"/>
<rect x="687.30" y="166.97" width="50.09" height="4.25" fill="#000" fill-opacity="0.72"/>
<rect x="1099.86" y="583.96" width="50.09" height="4.25" fill="#000" fill-opacity="0.72"/>
<rect x="824.82" y="166.97" width="50.09" height="4.25" fill="#000" fill-opacity="0.72"/>
<rect x="1145.70" y="538.10" width="50.09" height="4.25" fill="#000" fill-opacity="0.72"/>
<rect x="962.34" y="350.41" width="50.09" height="4.25" fill="#000" fill-opacity="0.72"/>
<rect x="916.50" y="400.52" width="50.09" height="4.25" fill="#000" fill-opacity="0.72"/>
<rect x="1054.02" y="400.52" width="50.09" height="4.25" fill="#000" fill-opacity="0.72"/>
<rect x="824.82" y="258.69" width="4.25" height="50.11" fill="#000" fill-opacity="0.90"/>
<rect x="870.66" y="212.83" width="4.25" height="50.11" fill="#000" fill-opacity="0.90"/>
<rect x="824.82" y="121.11" width="4.25" height="50.11" fill="#000" fill-opacity="0.90"/>
<rect x="1237.38" y="538.10" width="4.25" height="50.11" fill="#000" fill-opacity="0.90"/>
<rect x="916.50" y="258.69" width="4.25" height="50.11" fill="#000" fill-opacity="0.90"/>
<rect x="1054.02" y="492.24" width="4.25" height="50.11" fill="#000" fill-opacity="0.90"/>
<rect x="1099.86" y="446.38" width="4.25" height="50.11" fill="#000" fill-opacity="0.90"/>
<rect x="1054.02" y="350.41" width="4.25" height="54.36" fill="#000" fill-opacity="0.90"/>
<rect x="778.98" y="166.97" width="4.25" height="50.11" fill="#000" fill-opacity="0.90"/>
<rect x="733.14" y="75.25" width="4.25" height="50.11" fill="#000" fill-opacity="0.90"/>
<rect x="1145.70" y="492.24" width="4.25" height="50.11" fill="#000" fill-opacity="0.90"/>
<rect x="1191.54" y="583.96" width="4.25" height="50.11" fill="#000" fill-opacity="0.90"/>
<rect x="1008.18" y="400.52" width="4.25" height="50.11" fill="#000" fill-opacity="0.90"/>
<rect x="962.34" y="304.55" width="4.25" height="50.11" fill="#000" fill-opacity="0.90"/>
<rect x="870.66" y="166.97" width="4.25" height="50.11" fill="#000" fill-opacity="0.90"/>
<rect x="870.66" y="304.55" width="4.25" height="50.11" fill="#000" fill-opacity="0.90"/>
<rect x="824.82" y="212.83" width="4.25" height="50.11" fill="#000" fill-opacity="0.90"/>
<rect x="916.50" y="350.41" width="4.25" height="54.36" fill="#000" fill-opacity="0.90"/>
<rect x="916.50" y="212.83" width="4.25" height="50.11" fill="#000" fill-opacity="0.90"/>
<rect x="1099.86" y="400.52" width="4.25" height="50.11" fill="#000" fill-opacity="0.90"/>
<rect x="687.30" y="121.11" width="4.25" height="50.11" fill="#000" fill-opacity="0.90"/>
<rect x="1054.02" y="446.38" width="4.25" height="50.11" fill="#000" fill-opacity="0.90"/>
<rect x="1099.86" y="538.10" width="4.25" height="50.11" fill="#000" fill-opacity="0.90"/>
<rect x="733.14" y="166.97" width="4.25" height="50.11" fill="#000" fill-opacity="0.90"/>
<rect x="1145.70" y="583.96" width="4.25" height="50.11" fill="#000" fill-opacity="0.90"/>
<rect x="778.98" y="121.11" width="4.25" height="50.11" fill="#000" fill-opacity="0.90"/>
<rect x="1145.70" y="446.38" width="4.25" height="50.11" fill="#000" fill-opacity="0.90"/>
<rect x="1191.54" y="538.10" width="4.25" height="50.11" fill="#000" fill-opacity="0.90"/>
<rect x="962.34" y="258.69" width="4.25" height="50.11" fill="#000" fill-opacity="0.90"/>
<rect x="962.34" y="400.52" width="4.25" height="50.11" fill="#000" fill-opacity="0.90"/>
<rect x="1008.18" y="350.41" width="4.25" height="54.36" fill="#000" fill-opacity="0.90"/>
<rect x="824.82" y="166.97" width="4.25" height="50.11" fill="#000" fill-opacity="0.90"/>
<rect x="1237.38" y="583.96" width="4.25" height="50.11" fill="#000" fill-opacity="0.90"/>
<rect x="870.66" y="258.69" width="4.25" height="50.11" fill="#000" fill-opacity="0.90"/>
<rect x="916.50" y="304.55" width="4.25" height="50.11" fill="#000" fill-opacity="0.90"/>
<rect x="687.30" y="75.25" width="4.25" height="50.11" fill="#000" fill-opacity="0.90"/>
<rect x="1054.02" y="400.52" width="4.25" height="50.11" fill="#000" fill-opacity="0.90"/>
<rect x="1099.86" y="492.24" width="4.25" height="50.11" fill="#000" fill-opacity="0.90"/>
<rect x="733.14" y="121.11" width="4.25" height="50.11" fill="#000" fill-opacity="0.90"/>
<rect x="778.98" y="75.25" width="4.25" height="50.11" fill="#000" fill-opacity="0.90"/>
<rect x="1191.54" y="492.24" width="4.25" height="50.11" fill="#000" fill-opacity="0.90"/>
<rect x="778.98" y="212.83" width="4.25" height="50.11" fill="#000" fill-opacity="0.90"/>
<rect x="1145.70" y="538.10" width="4.25" height="50.11" fill="#000" fill-opacity="0.90"/>
<rect x="962.34" y="350.41" width="4.25" height="54.36" fill="#000" fill-opacity="0.90"/>
<rect x="1008.18" y="304.55" width="4.25" height="50.11" fill="#000" fill-opacity="0.90"/>
<rect x="1008.18" y="446.38" width="4.25" height="50.11" fill="#000" fill-opacity="0.90"/>
<rect x="1296.00" y="75.25" width="50.09" height="50.11" fill="#d9ead3"/>
<rect x="1341.84" y="75.25" width="50.09" height="50.11" fill="#d9ead3"/>
<rect x="1387.68" y="75.25" width="50.09" height="50.11" fill="#d9ead3"/>
<rect x="1433.52" y="75.25" width="50.09" height="50.11" fill="#d9ead3"/>
<rect x="1479.36" y="75.25" width="50.09" height="50.11" fill="#d9ead3"/>
<rect x="1525.20" y="75.25" width="50.09" height="50.11" fill="#d9ead3"/>
<rect x="1571.04" y="75.25" width="50.09" height="50.11" fill="#d9ead3"/>
<rect x="1616.88" y="75.25" width="50.09" height="50.11" fill="#d9ead3"/>
<rect x="1662.72" y="75.25" width="50.09" height="50.11" fill="#d9ead3"/>
<rect x="1708.56" y="75.25" width="50.09" height="50.11" fill="#d9ead3"/>
<rect x="1754.40" y="75.25" width="50.09" height="50.11" fill="#d9ead3"/>
<rect x="1800.24" y="75.25" width="50.09" height="50.11" fill="#d9ead3"/>
<rect x="1296.00" y="121.11" width="50.09" height="50.11" fill="#d9ead3"/>
<rect x="1341.84" y="121.11" width="50.09" height="50.11" fill="#d9ead3"/>
<rect x="1387.68" y="121.11" width="50.09" height="50.11" fill="#d9ead3"/>
<rect x="1433.52" y="121.11" width="50.09" height="50.11" fill="#d9ead3"/>
<rect x="1479.36" y="121.11" width="50.09" height="50.11" fill="#d9ead3"/>
<rect x="1525.20" y="121.11" width="50.09" height="50.11" fill="#d9ead3"/>
<rect x="1571.04" y="121.11" width="50.09" height="50.11" fill="#d9ead3"/>
<rect x="1616.88" y="121.11" width="50.09" height="50.11" fill="#d9ead3"/>
<rect x="1662.72" y="121.11" width="50.09" height="50.11" fill="#d9ead3"/>
<rect x="1708.56" y="121.11" width="50.09" height="50.11" fill="#d9ead3"/>
<rect x="1754.40" y="121.11" width="50.09" height="50.11" fill="#d9ead3"/>
<rect x="1800.24" y="121.11" width="50.09" height="50.11" fill="#d9ead3"/>
<rect x="1296.00" y="166.97" width="50.09" height="50.11" fill="#d9ead3"/>
<rect x="1341.84" y="166.97" width="50.09" height="50.11" fill="#d9ead3"/>
<rect x="1296.00" y="212.83" width="50.09" height="50.11" fill="#d9ead3"/>
<rect x="1341.84" y="212.83" width="50.09" height="50.11" fill="#d9ead3"/>
<rect x="1296.00" y="258.69" width="50.09" height="50.11" fill="#d9ead3"/>
<rect x="1341.84" y="258.69" width="50.09" height="50.11" fill="#d9ead3"/>
<rect x="1296.00" y="304.55" width="50.09" height="50.11" fill="#d9ead3"/>
<rect x="1341.84" y="304.55" width="50.09" height="50.11" fill="#d9ead3"/>
<rect x="1296.00" y="350.41" width="50.09" height="54.36" fill="#d9ead3"/>
<rect x="1341.84" y="350.41" width="50.09" height="54.36" fill="#d9ead3"/>
<rect x="1296.00" y="400.52" width="50.09" height="50.11" fill="#d9ead3"/>
<rect x="1341.84" y="400.52" width="50.09" height="50.11" fill="#d9ead3"/>
<rect x="1296.00" y="446.38" width="50.09" height="50.11" fill="#d9ead3"/>
<rect x="1341.84" y="446.38" width="50.09" height="50.11" fill="#d9ead3"/>
<rect x="1296.00" y="492.24" width="50.09" height="50.11" fill="#d9ead3"/>
<rect x="1341.84" y="492.24" width="50.09" height="50.11" fill="#d9ead3"/>
<rect x="1296.00" y="538.10" width="50.09" height="50.11" fill="#d9ead3"/>
<rect x="1341.84" y="538.10" width="50.09" height="50.11" fill="#d9ead3"/>
<rect x="1296.00" y="583.96" width="50.09" height="50.11" fill="#d9ead3"/>
<rect x="1341.84" y="583.96" width="50.09" height="50.11" fill="#d9ead3"/>
<rect x="1296.00" y="262.94" width="50.09" height="4.25" fill="#000" fill-opacity="0.30"/>
<rect x="1341.84" y="625.57" width="50.09" height="4.25" fill="#000" fill-opacity="0.30"/>
<rect x="1341.84" y="217.08" width="50.09" height="4.25" fill="#000" fill-opacity="0.30"/>
<rect x="1341.84" y="308.80" width="50.09" height="4.25" fill="#000" fill-opacity="0.30"/>
<rect x="1296.00" y="442.13" width="50.09" height="4.25" fill="#000" fill-opacity="0.30"/>
<rect x="1387.68" y="79.50" width="50.09" height="4.25" fill="#000" fill-opacity="0.30"/>
<rect x="1296.00" y="533.85" width="50.09" height="4.25" fill="#000" fill-opacity="0.30"/>
<rect x="1525.20" y="79.50" width="50.09" height="4.25" fill="#000" fill-opacity="0.30"/>
<rect x="1387.68" y="171.22" width="50.09" height="4.25" fill="#000" fill-opacity="0.30"/>
<rect x="1296.00" y="125.36" width="50.09" height="4.25" fill="#000" fill-opacity="0.30"/>
<rect x="1571.04" y="125.36" width="50.09" height="4.25" fill="#000" fill-opacity="0.30"/>
<rect x="1662.72" y="79.50" width="50.09" height="4.25" fill="#000" fill-opacity="0.30"/>
<rect x="1525.20" y="171.22" width="50.09" height="4.25" fill="#000" fill-opacity="0.30"/>
<rect x="1433.52" y="125.36" width="50.09" height="4.25" fill="#000" fill-opacity="0.30"/>
<rect x="1708.56" y="125.36" width="50.09" height="4.25" fill="#000" fill-opacity="0.30"/>
<rect x="1800.24" y="79.50" width="50.09" height="4.25" fill="#000" fill-opacity="0.30"/>
<rect x="1662.72" y="171.22" width="50.09" height="4.25" fill="#000" fill-opacity="0.30"/>
<rect x="1800.24" y="171.22" width="50.09" height="4.25" fill="#000" fill-opacity="0.30"/>
<rect x="1341.84" y="396.27" width="50.09" height="4.25" fill="#000" fill-opacity="0.30"/>
<rect x="1296.00" y="625.57" width="50.09" height="4.25" fill="#000" fill-opacity="0.30"/>
<rect x="1296.00" y="217.08" width="50.09" height="4.25" fill="#000" fill-opacity="0.30"/>
<rect x="1296.00" y="308.80" width="50.09" height="4.25" fill="#000" fill-opacity="0.30"/>
<rect x="1341.84" y="487.99" width="50.09" height="4.25" fill="#000" fill-opacity="0.30"/>
<rect x="1341.84" y="579.71" width="50.09" height="4.25" fill="#000" fill-opacity="0.30"/>
<rect x="1341.84" y="79.50" width="50.09" height="4.25" fill="#000" fill-opacity="0.30"/>
<rect x="1616.88" y="79.50" width="50.09" height="4.25" fill="#000" fill-opacity="0.30"/>
<rect x="1479.36" y="171.22" width="50.09" height="4.25" fill="#000" fill-opacity="0.30"/>
<rect x="1387.68" y="125.36" width="50.09" height="4.25" fill="#000" fill-opacity="0.30"/>
<rect x="1479.36" y="79.50" width="50.09" height="4.25" fill="#000" fill-opacity="0.30"/>
<rect x="1754.40" y="79.50" width="50.09" height="4.25" fill="#000" fill-opacity="0.30"/>
<rect x="1341.84" y="171.22" width="50.09" height="4.25" fill="#000" fill-opacity="0.30"/>
<rect x="1525.20" y="125.36" width="50.09" height="4.25" fill="#000" fill-opacity="0.30"/>
<rect x="1800.24" y="125.36" width="50.09" height="4.25" fill="#000" fill-opacity="0.30"/>
<rect x="1616.88" y="171.22" width="50.09" height="4.25" fill="#000" fill-opacity="0.30"/>
<rect x="1754.40" y="171.22" width="50.09" height="4.25" fill="#000" fill-opacity="0.30"/>
<rect x="1662.72" y="125.36" width="50.09" height="4.25" fill="#000" fill-opacity="0.30"/>
<rect x="1341.84" y="354.66" width="50.09" height="4.25" fill="#000" fill-opacity="0.30"/>
<rect x="1296.00" y="396.27" width="50.09" height="4.25" fill="#000" fill-opacity="0.30"/>
<rect x="1341.84" y="262.94" width="50.09" height="4.25" fill="#000" fill-opacity="0.30"/>
<rect x="1296.00" y="487.99" width="50.09" height="4.25" fill="#000" fill-opacity="0.30"/>
<rect x="1296.00" y="79.50" width="50.09" height="4.25" fill="#000" fill-opacity="0.30"/>
<rect x="1341.84" y="442.13" width="50.09" height="4.25" fill="#000" fill-opacity="0.30"/>
<rect x="1296.00" y="579.71" width="50.09" height="4.25" fill="#000" fill-opacity="0.30"/>
<rect x="1341.84" y="125.36" width="50.09" height="4.25" fill="#000" fill-opacity="0.30"/>
<rect x="1433.52" y="79.50" width="50.09" height="4.25" fill="#000" fill-opacity="0.30"/>
<rect x="1708.56" y="79.50" width="50.09" height="4.25" fill="#000" fill-opacity="0.30"/>
<rect x="1296.00" y="171.22" width="50.09" height="4.25" fill="#000" fill-opacity="0.30"/>
<rect x="1479.36" y="125.36" width="50.09" height="4.25" fill="#000" fill-opacity="0.30"/>
<rect x="1571.04" y="79.50" width="50.09" height="4.25" fill="#000" fill-opacity="0.30"/>
<rect x="1433.52" y="171.22" width="50.09" height="4.25" fill="#000" fill-opacity="0.30"/>
<rect x="1708.56" y="171.22" width="50.09" height="4.25" fill="#000" fill-opacity="0.30"/>
<rect x="1616.88" y="125.36" width="50.09" height="4.25" fill="#000" fill-opacity="0.30"/>
<rect x="1341.84" y="533.85" width="50.09" height="4.25" fill="#000" fill-opacity="0.30"/>
<rect x="1571.04" y="171.22" width="50.09" height="4.25" fill="#000" fill-opacity="0.30"/>
<rect x="1754.40" y="125.36" width="50.09" height="4.25" fill="#000" fill-opacity="0.30"/>
<rect x="1296.00" y="354.66" width="50.09" height="4.25" fill="#000" fill-opacity="0.30"/>
<rect x="1483.61" y="75.25" width="4.25" height="50.11" fill="#000" fill-opacity="0.12"/>
<rect x="1437.77" y="121.11" width="4.25" height="50.11" fill="#000" fill-opacity="0.12"/>
<rect x="1529.45" y="121.11" width="4.25" height="50.11" fill="#000" fill-opacity="0.12"/>
<rect x="1666.97" y="75.25" width="4.25" height="50.11" fill="#000" fill-opacity="0.12"/>
<rect x="1300.25" y="166.97" width="4.25" height="50.11" fill="#000" fill-opacity="0.12"/>
<rect x="1758.65" y="75.25" width="4.25" height="50.11" fill="#000" fill-opacity="0.12"/>
<rect x="1300.25" y="304.55" width="4.25" height="50.11" fill="#000" fill-opacity="0.12"/>
<rect x="1391.93" y="166.97" width="4.25" height="50.11" fill="#000" fill-opacity="0.12"/>
<rect x="1346.09" y="75.25" width="4.25" height="50.11" fill="#000" fill-opacity="0.12"/>
<rect x="1346.09" y="350.41" width="4.25" height="54.36" fill="#000" fill-opacity="0.12"/>
<rect x="1300.25" y="446.38" width="4.25" height="50.11" fill="#000" fill-opacity="0.12"/>
<rect x="1391.93" y="304.55" width="4.25" height="50.11" fill="#000" fill-opacity="0.12"/>
<rect x="1346.09" y="212.83" width="4.25" height="50.11" fill="#000" fill-opacity="0.12"/>
<rect x="1346.09" y="492.24" width="4.25" height="50.11" fill="#000" fill-opacity="0.12"/>
<rect x="1300.25" y="583.96" width="4.25" height="50.11" fill="#000" fill-opacity="0.12"/>
<rect x="1391.93" y="446.38" width="4.25" height="50.11" fill="#000" fill-opacity="0.12"/>
<rect x="1391.93" y="583.96" width="4.25" height="50.11" fill="#000" fill-opacity="0.12"/>
<rect x="1621.13" y="121.11" width="4.25" height="50.11" fill="#000" fill-opacity="0.12"/>
<rect x="1437.77" y="75.25" width="4.25" height="50.11" fill="#000" fill-opacity="0.12"/>
<rect x="1529.45" y="75.25" width="4.25" height="50.11" fill="#000" fill-opacity="0.12"/>
<rect x="1712.81" y="121.11" width="4.25" height="50.11" fill="#000" fill-opacity="0.12"/>
<rect x="1300.25" y="121.11" width="4.25" height="50.11" fill="#000" fill-opacity="0.12"/>
<rect x="1804.49" y="121.11" width="4.25" height="50.11" fill="#000" fill-opacity="0.12"/>
<rect x="1391.93" y="258.69" width="4.25" height="50.11" fill="#000" fill-opacity="0.12"/>
<rect x="1346.09" y="166.97" width="4.25" height="50.11" fill="#000" fill-opacity="0.12"/>
<rect x="1300.25" y="258.69" width="4.25" height="50.11" fill="#000" fill-opacity="0.12"/>
<rect x="1391.93" y="121.11" width="4.25" height="50.11" fill="#000" fill-opacity="0.12"/>
<rect x="1300.25" y="400.52" width="4.25" height="50.11" fill="#000" fill-opacity="0.12"/>
<rect x="1346.09" y="304.55" width="4.25" height="50.11" fill="#000" fill-opacity="0.12"/>
<rect x="1391.93" y="400.52" width="4.25" height="50.11" fill="#000" fill-opacity="0.12"/>
<rect x="1575.29" y="121.11" width="4.25" height="50.11" fill="#000" fill-opacity="0.12"/>
<rect x="1300.25" y="538.10" width="4.25" height="50.11" fill="#000" fill-opacity="0.12"/>
<rect x="1621.13" y="75.25" width="4.25" height="50.11" fill="#000" fill-opacity="0.12"/>
<rect x="1346.09" y="446.38" width="4.25" height="50.11" fill="#000" fill-opacity="0.12"/>
<rect x="1391.93" y="538.10" width="4.25" height="50.11" fill="#000" fill-opacity="0.12"/>
<rect x="1346.09" y="583.96" width="4.25" height="50.11" fill="#000" fill-opacity="0.12"/>
<rect x="1483.61" y="121.11" width="4.25" height="50.11" fill="#000" fill-opacity="0.12"/>
<rect x="1712.81" y="75.25" width="4.25" height="50.11" fill="#000" fill-opacity="0.12"/>
<rect x="1300.25" y="75.25" width="4.25" height="50.11" fill="#000" fill-opacity="0.12"/>
<rect x="1804.49" y="75.25" width="4.25" height="50.11" fill="#000" fill-opacity="0.12"/>
<rect x="1666.97" y="121.11" width="4.25" height="50.11" fill="#000" fill-opacity="0.12"/>
<rect x="1346.09" y="121.11" width="4.25" height="50.11" fill="#000" fill-opacity="0.12"/>
<rect x="1300.25" y="212.83" width="4.25" height="50.11" fill="#000" fill-opacity="0.12"/>
<rect x="1391.93" y="75.25" width="4.25" height="50.11" fill="#000" fill-opacity="0.12"/>
<rect x="1758.65" y="121.11" width="4.25" height="50.11" fill="#000" fill-opacity="0.12"/>
<rect x="1346.09" y="258.69" width="4.25" height="50.11" fill="#000" fill-opacity="0.12"/>
<rect x="1300.25" y="350.41" width="4.25" height="54.36" fill="#000" fill-opacity="0.12"/>
<rect x="1391.93" y="212.83" width="4.25" height="50.11" fill="#000" fill-opacity="0.12"/>
<rect x="1300.25" y="492.24" width="4.25" height="50.11" fill="#000" fill-opacity="0.12"/>
<rect x="1346.09" y="400.52" width="4.25" height="50.11" fill="#000" fill-opacity="0.12"/>
<rect x="1391.93" y="492.24" width="4.25" height="50.11" fill="#000" fill-opacity="0.12"/>
<rect x="1391.93" y="350.41" width="4.25" height="54.36" fill="#000" fill-opacity="0.12"/>
<rect x="1346.09" y="538.10" width="4.25" height="50.11" fill="#000" fill-opacity="0.12"/>
<rect x="1575.29" y="75.25" width="4.25" height="50.11" fill="#000" fill-opacity="0.12"/>
<rect x="1296.00" y="258.69" width="50.09" height="4.25" fill="#000" fill-opacity="0.72"/>
<rect x="1341.84" y="629.82" width="50.09" height="4.25" fill="#000" fill-opacity="0.72"/>
<rect x="1341.84" y="212.83" width="50.09" height="4.25" fill="#000" fill-opacity="0.72"/>
<rect x="1341.84" y="304.55" width="50.09" height="4.25" fill="#000" fill-opacity="0.72"/>
<rect x="1296.00" y="446.38" width="50.09" height="4.25" fill="#000" fill-opacity="0.72"/>
<rect x="1387.68" y="75.25" width="50.09" height="4.25" fill="#000" fill-opacity="0.72"/>
<rect x="1296.00" y="538.10" width="50.09" height="4.25" fill="#000" fill-opacity="0.72"/>
<rect x="1525.20" y="75.25" width="50.09" height="4.25" fill="#000" fill-opacity="0.72"/>
<rect x="1387.68" y="166.97" width="50.09" height="4.25" fill="#000" fill-opacity="0.72"/>
<rect x="1296.00" y="121.11" width="50.09" height="4.25" fill="#000" fill-opacity="0.72"/>
<rect x="1571.04" y="121.11" width="50.09" height="4.25" fill="#000" fill-opacity="0.72"/>
<rect x="1662.72" y="75.25" width="50.09" height="4.25" fill="#000" fill-opacity="0.72"/>
<rect x="1525.20" y="166.97" width="50.09" height="4.25" fill="#000" fill-opacity="0.72"/>
<rect x="1433.52" y="121.11" width="50.09" height="4.25" fill="#000" fill-opacity="0.72"/>
<rect x="1708.56" y="121.11" width="50.09" height="4.25" fill="#000" fill-opacity="0.72"/>
<rect x="1800.24" y="75.25" width="50.09" height="4.25" fill="#000" fill-opacity="0.72"/>
<rect x="1662.72" y="166.97" width="50.09" height="4.25" fill="#000" fill-opacity="0.72"/>
<rect x="1800.24" y="166.97" width="50.09" height="4.25" fill="#000" fill-opacity="0.72"/>
<rect x="1341.84" y="400.52" width="50.09" height="4.25" fill="#000" fill-opacity="0.72"/>
<rect x="1296.00" y="629.82" width="50.09" height="4.25" fill="#000" fill-opacity="0.72"/>
<rect x="1296.00" y="212.83" width="50.09" height="4.25" fill="#000" fill-opacity="0.72"/>
<rect x="1296.00" y="304.55" width="50.09" height="4.25" fill="#000" fill-opacity="0.72"/>
<rect x="1341.84" y="492.24" width="50.09" height="4.25" fill="#000" fill-opacity="0.72"/>
<rect x="1341.84" y="583.96" width="50.09" height="4.25" fill="#000" fill-opacity="0.72"/>
<rect x="1341.84" y="75.25" width="50.09" height="4.25" fill="#000" fill-opacity="0.72"/>
<rect x="1616.88" y="75.25" width="50.09" height="4.25" fill="#000" fill-opacity="0.72"/>
<rect x="1479.36" y="166.97" width="50.09" height="4.25" fill="#000" fill-opacity="0.72"/>
<rect x="1387.68" y="121.11" width="50.09" height="4.25" fill="#000" fill-opacity="0.72"/>
<rect x="1479.36" y="75.25" width="50.09" height="4.25" fill="#000" fill-opacity="0.72"/>
<rect x="1754.40" y="75.25" width="50.09" height="4.25" fill="#000" fill-opacity="0.72"/>
<rect x="1341.84" y="166.97" width="50.09" height="4.25" fill="#000" fill-opacity="0.72"/>
<rect x="1525.20" y="121.11" width="50.09" height="4.25" fill="#000" fill-opacity="0.72"/>
<rect x="1800.24" y="121.11" width="50.09" height="4.25" fill="#000" fill-opacity="0.72"/>
<rect x="1616.88" y="166.97" width="50.09" height="4.25" fill="#000" fill-opacity="0.72"/>
<rect x="1754.40" y="166.97" width="50.09" height="4.25" fill="#000" fill-opacity="0.72"/>
<rect x="1662.72" y="121.11" width="50.09" height="4.25" fill="#000" fill-opacity="0.72"/>
<rect x="1341.84" y="350.41" width="50.09" height="4.25" fill="#000" fill-opacity="0.72"/>
<rect x="1296.00" y="400.52" width="50.09" height="4.25" fill="#000" fill-opacity="0.72"/>
<rect x="1341.84" y="258.69" width="50.09" height="4.25" fill="#000" fill-opacity="0.72"/>
<rect x="1296.00" y="492.24" width="50.09" height="4.25" fill="#000" fill-opacity="0.72"/>
<rect x="1296.00" y="75.25" width="50.09" height="4.25" fill="#000" fill-opacity="0.72"/>
<rect x="1341.84" y="446.38" width="50.09" height="4.25" fill="#000" fill-opacity="0.72"/>
<rect x="1296.00" y="583.96" width="50.09" height="4.25" fill="#000" fill-opacity="0.72"/>
<rect x="1341.84" y="121.11" width="50.09" height="4.25" fill="#000" fill-opacity="0.72"/>
<rect x="1433.52" y="75.25" width="50.09" height="4.25" fill="#000" fill-opacity="0.72"/>
<rect x="1708.56" y="75.25" width="50.09" height="4.25" fill="#000" fill-opacity="0.72"/>
<rect x="1296.00" y="166.97" width="50.09" height="4.25" fill="#000" fill-opacity="0.72"/>
<rect x="1479.36" y="121.11" width="50.09" height="4.25" fill="#000" fill-opacity="0.72"/>
<rect x="1571.04" y="75.25" width="50.09" height="4.25" fill="#000" fill-opacity="0.72"/>
<rect x="1433.52" y="166.97" width="50.09" height="4.25" fill="#000" fill-opacity="0.72"/>
<rect x="1708.56" y="166.97" width="50.09" height="4.25" fill="#000" fill-opacity="0.72"/>
<rect x="1616.88" y="121.11" width="50.09" height="4.25" fill="#000" fill-opacity="0.72"/>
<rect x="1341.84" y="538.10" width="50.09" height="4.25" fill="#000" fill-opacity="0.72"/>
<rect x="1571.04" y="166.97" width="50.09" height="4.25" fill="#000" fill-opacity="0.72"/>
<rect x="1754.40" y="121.11" width="50.09" height="4.25" fill="#000" fill-opacity="0.72"/>
<rect x="1296.00" y="350.41" width="50.09" height="4.25" fill="#000" fill-opacity="0.72"/>
<rect x="1479.36" y="75.25" width="4.25" height="50.11" fill="#000" fill-opacity="0.90"/>
<rect x="1846.08" y="121.11" width="4.25" height="50.11" fill="#000" fill-opacity="0.34"/>
<rect x="1433.52" y="121.11" width="4.25" height="50.11" fill="#000" fill-opacity="0.90"/>
<rect x="1525.20" y="121.11" width="4.25" height="50.11" fill="#000" fill-opacity="0.90"/>
<rect x="1662.72" y="75.25" width="4.25" height="50.11" fill="#000" fill-opacity="0.90"/>
<rect x="1296.00" y="166.97" width="4.25" height="50.11" fill="#000" fill-opacity="0.90"/>
<rect x="1754.40" y="75.25" width="4.25" height="50.11" fill="#000" fill-opacity="0.90"/>
<rect x="1296.00" y="304.55" width="4.25" height="50.11" fill="#000" fill-opacity="0.90"/>
<rect x="1387.68" y="166.97" width="4.25" height="50.11" fill="#000" fill-opacity="0.90"/>
<rect x="1341.84" y="75.25" width="4.25" height="50.11" fill="#000" fill-opacity="0.90"/>
<rect x="1341.84" y="350.41" width="4.25" height="54.36" fill="#000" fill-opacity="0.90"/>
<rect x="1296.00" y="446.38" width="4.25" height="50.11" fill="#000" fill-opacity="0.90"/>
<rect x="1387.68" y="304.55" width="4.25" height="50.11" fill="#000" fill-opacity="0.90"/>
<rect x="1341.84" y="212.83" width="4.25" height="50.11" fill="#000" fill-opacity="0.90"/>
<rect x="1341.84" y="492.24" width="4.25" height="50.11" fill="#000" fill-opacity="0.90"/>
<rect x="1296.00" y="583.96" width="4.25" height="50.11" fill="#000" fill-opacity="0.90"/>
<rect x="1387.68" y="446.38" width="4.25" height="50.11" fill="#000" fill-opacity="0.90"/>
<rect x="1387.68" y="583.96" width="4.25" height="50.11" fill="#000" fill-opacity="0.90"/>
<rect x="1616.88" y="121.11" width="4.25" height="50.11" fill="#000" fill-opacity="0.90"/>
<rect x="1846.08" y="75.25" width="4.25" height="50.11" fill="#000" fill-opacity="0.34"/>
<rect x="1433.52" y="75.25" width="4.25" height="50.11" fill="#000" fill-opacity="0.90"/>
<rect x="1525.20" y="75.25" width="4.25" height="50.11" fill="#000" fill-opacity="0.90"/>
<rect x="1708.56" y="121.11" width="4.25" height="50.11" fill="#000" fill-opacity="0.90"/>
<rect x="1296.00" y="121.11" width="4.25" height="50.11" fill="#000" fill-opacity="0.90"/>
<rect x="1800.24" y="121.11" width="4.25" height="50.11" fill="#000" fill-opacity="0.90"/>
<rect x="1387.68" y="258.69" width="4.25" height="50.11" fill="#000" fill-opacity="0.90"/>
<rect x="1341.84" y="166.97" width="4.25" height="50.11" fill="#000" fill-opacity="0.90"/>
<rect x="1296.00" y="258.69" width="4.25" height="50.11" fill="#000" fill-opacity="0.90"/>
<rect x="1387.68" y="121.11" width="4.25" height="50.11" fill="#000" fill-opacity="0.90"/>
<rect x="1296.00" y="400.52" width="4.25" height="50.11" fill="#000" fill-opacity="0.90"/>
<rect x="1341.84" y="304.55" width="4.25" height="50.11" fill="#000" fill-opacity="0.90"/>
<rect x="1387.68" y="400.52" width="4.25" height="50.11" fill="#000" fill-opacity="0.90"/>
<rect x="1571.04" y="121.11" width="4.25" height="50.11" fill="#000" fill-opacity="0.90"/>
<rect x="1296.00" y="538.10" width="4.25" height="50.11" fill="#000" fill-opacity="0.90"/>
<rect x="1616.88" y="75.25" width="4.25" height="50.11" fill="#000" fill-opacity="0.90"/>
<rect x="1341.84" y="446.38" width="4.25" height="50.11" fill="#000" fill-opacity="0.90"/>
<rect x="1387.68" y="538.10" width="4.25" height="50.11" fill="#000" fill-opacity="0.90"/>
<rect x="1341.84" y="583.96" width="4.25" height="50.11" fill="#000" fill-opacity="0.90"/>
<rect x="1479.36" y="121.11" width="4.25" height="50.11" fill="#000" fill-opacity="0.90"/>
<rect x="1708.56" y="75.25" width="4.25" height="50.11" fill="#000" fill-opacity="0.90"/>
<rect x="1296.00" y="75.25" width="4.25" height="50.11" fill="#000" fill-opacity="0.90"/>
<rect x="1800.24" y="75.25" width="4.25" height="50.11" fill="#000" fill-opacity="0.90"/>
<rect x="1662.72" y="121.11" width="4.25" height="50.11" fill="#000" fill-opacity="0.90"/>
<rect x="1341.84" y="121.11" width="4.25" height="50.11" fill="#000" fill-opacity="0.90"/>
<rect x="1296.00" y="212.83" width="4.25" height="50.11" fill="#000" fill-opacity="0.90"/>
<rect x="1387.68" y="75.25" width="4.25" height="50.11" fill="#000" fill-opacity="0.90"/>
<rect x="1754.40" y="121.11" width="4.25" height="50.11" fill="#000" fill-opacity="0.90"/>
<rect x="1341.84" y="258.69" width="4.25" height="50.11" fill="#000" fill-opacity="0.90"/>
<rect x="1296.00" y="350.41" width="4.25" height="54.36" fill="#000" fill-opacity="0.90"/>
<rect x="1387.68" y="212.83" width="4.25" height="50.11" fill="#000" fill-opacity="0.90"/>
<rect x="1296.00" y="492.24" width="4.25" height="50.11" fill="#000" fill-opacity="0.90"/>
<rect x="1341.84" y="400.52" width="4.25" height="50.11" fill="#000" fill-opacity="0.90"/>
<rect x="1387.68" y="492.24" width="4.25" height="50.11" fill="#000" fill-opacity="0.90"/>
<rect x="1387.68" y="350.41" width="4.25" height="54.36" fill="#000" fill-opacity="0.90"/>
<rect x="1341.84" y="538.10" width="4.25" height="50.11" fill="#000" fill-opacity="0.90"/>
<rect x="1571.04" y="75.25" width="4.25" height="50.11" fill="#000" fill-opacity="0.90"/>
<rect x="1846.00" y="171.22" width="4.30" height="462.78" fill="#000" fill-opacity="0.33"/>
<rect x="1391.93" y="629.80" width="458.37" height="4.20" fill="#000" fill-opacity="0.95"/>
<rect x="1904.00" y="75.25" width="50.09" height="50.11" fill="#cfe2f3"/>
<rect x="1949.84" y="75.25" width="50.09" height="50.11" fill="#cfe2f3"/>
<rect x="1995.68" y="75.25" width="50.09" height="50.11" fill="#d9ead3"/>
<rect x="2041.52" y="75.25" width="50.09" height="50.11" fill="#d9ead3"/>
<rect x="2087.36" y="75.25" width="50.09" height="50.11" fill="#d9ead3"/>
<rect x="2133.20" y="75.25" width="50.09" height="50.11" fill="#d9ead3"/>
<rect x="2179.04" y="75.25" width="50.09" height="50.11" fill="#d9ead3"/>
<rect x="2224.88" y="75.25" width="50.09" height="50.11" fill="#d9ead3"/>
<rect x="2270.72" y="75.25" width="50.09" height="50.11" fill="#d9ead3"/>
<rect x="2316.56" y="75.25" width="50.09" height="50.11" fill="#d9ead3"/>
<rect x="2362.40" y="75.25" width="50.09" height="50.11" fill="#d9ead3"/>
<rect x="2408.24" y="75.25" width="50.09" height="50.11" fill="#d9ead3"/>
<rect x="1904.00" y="121.11" width="50.09" height="50.11" fill="#cfe2f3"/>
<rect x="1949.84" y="121.11" width="50.09" height="50.11" fill="#cfe2f3"/>
<rect x="1995.68" y="121.11" width="50.09" height="50.11" fill="#cfe2f3"/>
<rect x="2041.52" y="121.11" width="50.09" height="50.11" fill="#d9ead3"/>
<rect x="2087.36" y="121.11" width="50.09" height="50.11" fill="#d9ead3"/>
<rect x="2133.20" y="121.11" width="50.09" height="50.11" fill="#d9ead3"/>
<rect x="2179.04" y="121.11" width="50.09" height="50.11" fill="#d9ead3"/>
<rect x="2224.88" y="121.11" width="50.09" height="50.11" fill="#d9ead3"/>
<rect x="2270.72" y="121.11" width="50.09" height="50.11" fill="#d9ead3"/>
<rect x="2316.56" y="121.11" width="50.09" height="50.11" fill="#d9ead3"/>
<rect x="2362.40" y="121.11" width="50.09" height="50.11" fill="#d9ead3"/>
<rect x="2408.24" y="121.11" width="50.09" height="50.11" fill="#d9ead3"/>
<rect x="1904.00" y="166.97" width="50.09" height="50.11" fill="#d9ead3"/>
<rect x="1949.84" y="166.97" width="50.09" height="50.11" fill="#cfe2f3"/>
<rect x="1904.00" y="212.83" width="50.09" height="50.11" fill="#d9ead3"/>
<rect x="1949.84" y="212.83" width="50.09" height="50.11" fill="#d9ead3"/>
<rect x="1904.00" y="258.69" width="50.09" height="50.11" fill="#d9ead3"/>
<rect x="1949.84" y="258.69" width="50.09" height="50.11" fill="#d9ead3"/>
<rect x="1904.00" y="304.55" width="50.09" height="50.11" fill="#d9ead3"/>
<rect x="1949.84" y="304.55" width="50.09" height="50.11" fill="#d9ead3"/>
<rect x="1904.00" y="350.41" width="50.09" height="54.36" fill="#d9ead3"/>
<rect x="1949.84" y="350.41" width="50.09" height="54.36" fill="#d9ead3"/>
<rect x="1904.00" y="400.52" width="50.09" height="50.11" fill="#d9ead3"/>
<rect x="1949.84" y="400.52" width="50.09" height="50.11" fill="#d9ead3"/>
<rect x="1904.00" y="446.38" width="50.09" height="50.11" fill="#d9ead3"/>
<rect x="1949.84" y="446.38" width="50.09" height="50.11" fill="#d9ead3"/>
<rect x="1904.00" y="492.24" width="50.09" height="50.11" fill="#d9ead3"/>
<rect x="1949.84" y="492.24" width="50.09" height="50.11" fill="#d9ead3"/>
<rect x="1904.00" y="538.10" width="50.09" height="50.11" fill="#d9ead3"/>
<rect x="1949.84" y="538.10" width="50.09" height="50.11" fill="#d9ead3"/>
<rect x="1904.00" y="583.96" width="50.09" height="50.11" fill="#d9ead3"/>
<rect x="1949.84" y="583.96" width="50.09" height="50.11" fill="#d9ead3"/>
<rect x="1995.68" y="166.97" width="50.09" height="50.11" fill="#cfe2f3"/>
<rect x="2041.52" y="166.97" width="50.09" height="50.11" fill="#cfe2f3"/>
<rect x="1995.68" y="212.83" width="50.09" height="50.11" fill="#cfe2f3"/>
<rect x="2041.52" y="212.83" width="50.09" height="50.11" fill="#cfe2f3"/>
<rect x="2087.36" y="212.83" width="50.09" height="50.11" fill="#cfe2f3"/>
<rect x="2041.52" y="258.69" width="50.09" height="50.11" fill="#cfe2f3"/>
<rect x="2087.36" y="258.69" width="50.09" height="50.11" fill="#cfe2f3"/>
<rect x="2133.20" y="258.69" width="50.09" height="50.11" fill="#cfe2f3"/>
<rect x="2087.36" y="304.55" width="50.09" height="50.11" fill="#cfe2f3"/>
<rect x="2133.20" y="304.55" width="50.09" height="50.11" fill="#cfe2f3"/>
<rect x="2179.04" y="304.55" width="50.09" height="50.11" fill="#cfe2f3"/>
<rect x="2133.20" y="350.41" width="50.09" height="54.36" fill="#cfe2f3"/>
<rect x="2179.04" y="350.41" width="50.09" height="54.36" fill="#cfe2f3"/>
<rect x="2224.88" y="350.41" width="50.09" height="54.36" fill="#cfe2f3"/>
<rect x="2179.04" y="400.52" width="50.09" height="50.11" fill="#cfe2f3"/>
<rect x="2224.88" y="400.52" width="50.09" height="50.11" fill="#cfe2f3"/>
<rect x="2270.72" y="400.52" width="50.09" height="50.11" fill="#cfe2f3"/>
<rect x="2224.88" y="446.38" width="50.09" height="50.11" fill="#cfe2f3"/>
<rect x="2270.72" y="446.38" width="50.09" height="50.11" fill="#cfe2f3"/>
<rect x="2316.56" y="446.38" width="50.09" height="50.11" fill="#cfe2f3"/>
<rect x="2270.72" y="492.24" width="50.09" height="50.11" fill="#cfe2f3"/>
<rect x="2316.56" y="492.24" width="50.09" height="50.11" fill="#cfe2f3"/>
<rect x="2362.40" y="492.24" width="50.09" height="50.11" fill="#cfe2f3"/>
<rect x="2316.56" y="538.10" width="50.09" height="50.11" fill="#cfe2f3"/>
<rect x="2362.40" y="538.10" width="50.09" height="50.11" fill="#cfe2f3"/>
<rect x="2408.24" y="538.10" width="50.09" height="50.11" fill="#cfe2f3"/>
<rect x="2362.40" y="583.96" width="50.09" height="50.11" fill="#cfe2f3"/>
<rect x="2408.24" y="583.96" width="50.09" height="50.11" fill="#cfe2f3"/>
<rect x="2179.04" y="166.97" width="50.09" height="50.11" fill="#f9cb9c"/>
<rect x="2224.88" y="212.83" width="50.09" height="50.11" fill="#f9cb9c"/>
<rect x="2316.56" y="258.69" width="50.09" height="50.11" fill="#f9cb9c"/>
<rect x="2041.52" y="350.41" width="50.09" height="54.36" fill="#f9cb9c"/>
<rect x="2362.40" y="400.52" width="50.09" height="50.11" fill="#f9cb9c"/>
<rect x="1995.68" y="446.38" width="50.09" height="50.11" fill="#f9cb9c"/>
<rect x="2179.04" y="492.24" width="50.09" height="50.11" fill="#f9cb9c"/>
<rect x="2087.36" y="538.10" width="50.09" height="50.11" fill="#f9cb9c"/>
<rect x="2179.04" y="583.96" width="50.09" height="50.11" fill="#f9cb9c"/>
<rect x="2316.56" y="583.96" width="50.09" height="50.11" fill="#f9cb9c"/>
<rect x="1904.00" y="262.94" width="50.09" height="4.25" fill="#000" fill-opacity="0.30"/>
<rect x="2316.56" y="262.94" width="50.09" height="4.25" fill="#000" fill-opacity="0.30"/>
<rect x="1949.84" y="308.80" width="50.09" height="4.25" fill="#000" fill-opacity="0.30"/>
<rect x="1904.00" y="442.13" width="50.09" height="4.25" fill="#000" fill-opacity="0.30"/>
<rect x="2316.56" y="442.13" width="50.09" height="4.25" fill="#000" fill-opacity="0.30"/>
<rect x="2179.04" y="533.85" width="50.09" height="4.25" fill="#000" fill-opacity="0.30"/>
<rect x="2270.72" y="487.99" width="50.09" height="4.25" fill="#000" fill-opacity="0.30"/>
<rect x="2133.20" y="79.50" width="50.09" height="4.25" fill="#000" fill-opacity="0.30"/>
<rect x="1995.68" y="171.22" width="50.09" height="4.25" fill="#000" fill-opacity="0.30"/>
<rect x="2408.24" y="171.22" width="50.09" height="4.25" fill="#000" fill-opacity="0.30"/>
<rect x="1949.84" y="396.27" width="50.09" height="4.25" fill="#000" fill-opacity="0.30"/>
<rect x="2362.40" y="396.27" width="50.09" height="4.25" fill="#000" fill-opacity="0.30"/>
<rect x="1995.68" y="262.94" width="50.09" height="4.25" fill="#000" fill-opacity="0.30"/>
<rect x="2179.04" y="217.08" width="50.09" height="4.25" fill="#000" fill-opacity="0.30"/>
<rect x="2041.52" y="308.80" width="50.09" height="4.25" fill="#000" fill-opacity="0.30"/>
<rect x="1995.68" y="442.13" width="50.09" height="4.25" fill="#000" fill-opacity="0.30"/>
<rect x="1949.84" y="487.99" width="50.09" height="4.25" fill="#000" fill-opacity="0.30"/>
<rect x="2362.40" y="487.99" width="50.09" height="4.25" fill="#000" fill-opacity="0.30"/>
<rect x="2224.88" y="79.50" width="50.09" height="4.25" fill="#000" fill-opacity="0.30"/>
<rect x="2087.36" y="171.22" width="50.09" height="4.25" fill="#000" fill-opacity="0.30"/>
<rect x="2270.72" y="125.36" width="50.09" height="4.25" fill="#000" fill-opacity="0.30"/>
<rect x="2087.36" y="354.66" width="50.09" height="4.25" fill="#000" fill-opacity="0.30"/>
<rect x="2041.52" y="396.27" width="50.09" height="4.25" fill="#000" fill-opacity="0.30"/>
<rect x="2133.20" y="308.80" width="50.09" height="4.25" fill="#000" fill-opacity="0.30"/>
<rect x="1904.00" y="79.50" width="50.09" height="4.25" fill="#000" fill-opacity="0.30"/>
<rect x="1904.00" y="579.71" width="50.09" height="4.25" fill="#000" fill-opacity="0.30"/>
<rect x="2316.56" y="79.50" width="50.09" height="4.25" fill="#000" fill-opacity="0.30"/>
<rect x="2316.56" y="579.71" width="50.09" height="4.25" fill="#000" fill-opacity="0.30"/>
<rect x="2362.40" y="125.36" width="50.09" height="4.25" fill="#000" fill-opacity="0.30"/>
<rect x="2179.04" y="354.66" width="50.09" height="4.25" fill="#000" fill-opacity="0.30"/>
<rect x="2133.20" y="396.27" width="50.09" height="4.25" fill="#000" fill-opacity="0.30"/>
<rect x="1949.84" y="217.08" width="50.09" height="4.25" fill="#000" fill-opacity="0.30"/>
<rect x="1995.68" y="79.50" width="50.09" height="4.25" fill="#000" fill-opacity="0.30"/>
<rect x="2041.52" y="125.36" width="50.09" height="4.25" fill="#000" fill-opacity="0.30"/>
<rect x="2224.88" y="396.27" width="50.09" height="4.25" fill="#000" fill-opacity="0.30"/>
<rect x="2179.04" y="625.57" width="50.09" height="4.25" fill="#000" fill-opacity="0.30"/>
<rect x="2041.52" y="217.08" width="50.09" height="4.25" fill="#000" fill-opacity="0.30"/>
<rect x="1904.00" y="308.80" width="50.09" height="4.25" fill="#000" fill-opacity="0.30"/>
<rect x="2316.56" y="308.80" width="50.09" height="4.25" fill="#000" fill-opacity="0.30"/>
<rect x="2224.88" y="487.99" width="50.09" height="4.25" fill="#000" fill-opacity="0.30"/>
<rect x="2087.36" y="579.71" width="50.09" height="4.25" fill="#000" fill-opacity="0.30"/>
<rect x="2270.72" y="533.85" width="50.09" height="4.25" fill="#000" fill-opacity="0.30"/>
<rect x="2133.20" y="125.36" width="50.09" height="4.25" fill="#000" fill-opacity="0.30"/>
<rect x="1949.84" y="354.66" width="50.09" height="4.25" fill="#000" fill-opacity="0.30"/>
<rect x="1904.00" y="396.27" width="50.09" height="4.25" fill="#000" fill-opacity="0.30"/>
<rect x="2087.36" y="262.94" width="50.09" height="4.25" fill="#000" fill-opacity="0.30"/>
<rect x="1904.00" y="487.99" width="50.09" height="4.25" fill="#000" fill-opacity="0.30"/>
<rect x="2316.56" y="487.99" width="50.09" height="4.25" fill="#000" fill-opacity="0.30"/>
<rect x="1949.84" y="533.85" width="50.09" height="4.25" fill="#000" fill-opacity="0.30"/>
<rect x="2362.40" y="533.85" width="50.09" height="4.25" fill="#000" fill-opacity="0.30"/>
<rect x="2224.88" y="125.36" width="50.09" height="4.25" fill="#000" fill-opacity="0.30"/>
<rect x="2179.04" y="171.22" width="50.09" height="4.25" fill="#000" fill-opacity="0.30"/>
<rect x="1949.84" y="625.57" width="50.09" height="4.25" fill="#000" fill-opacity="0.30"/>
<rect x="2362.40" y="625.57" width="50.09" height="4.25" fill="#000" fill-opacity="0.30"/>
<rect x="2224.88" y="217.08" width="50.09" height="4.25" fill="#000" fill-opacity="0.30"/>
<rect x="2087.36" y="308.80" width="50.09" height="4.25" fill="#000" fill-opacity="0.30"/>
<rect x="1995.68" y="487.99" width="50.09" height="4.25" fill="#000" fill-opacity="0.30"/>
<rect x="2179.04" y="442.13" width="50.09" height="4.25" fill="#000" fill-opacity="0.30"/>
<rect x="1904.00" y="125.36" width="50.09" height="4.25" fill="#000" fill-opacity="0.30"/>
<rect x="2316.56" y="125.36" width="50.09" height="4.25" fill="#000" fill-opacity="0.30"/>
<rect x="2408.24" y="79.50" width="50.09" height="4.25" fill="#000" fill-opacity="0.30"/>
<rect x="2270.72" y="171.22" width="50.09" height="4.25" fill="#000" fill-opacity="0.30"/>
<rect x="2408.24" y="579.71" width="50.09" height="4.25" fill="#000" fill-opacity="0.30"/>
<rect x="1904.00" y="217.08" width="50.09" height="4.25" fill="#000" fill-opacity="0.30"/>
<rect x="2179.04" y="308.80" width="50.09" height="4.25" fill="#000" fill-opacity="0.30"/>
<rect x="2270.72" y="442.13" width="50.09" height="4.25" fill="#000" fill-opacity="0.30"/>
<rect x="1995.68" y="125.36" width="50.09" height="4.25" fill="#000" fill-opacity="0.30"/>
<rect x="2087.36" y="79.50" width="50.09" height="4.25" fill="#000" fill-opacity="0.30"/>
<rect x="1949.84" y="171.22" width="50.09" height="4.25" fill="#000" fill-opacity="0.30"/>
<rect x="2408.24" y="125.36" width="50.09" height="4.25" fill="#000" fill-opacity="0.30"/>
<rect x="2362.40" y="171.22" width="50.09" height="4.25" fill="#000" fill-opacity="0.30"/>
<rect x="1995.68" y="217.08" width="50.09" height="4.25" fill="#000" fill-opacity="0.30"/>
<rect x="1949.84" y="262.94" width="50.09" height="4.25" fill="#000" fill-opacity="0.30"/>
<rect x="1949.84" y="442.13" width="50.09" height="4.25" fill="#000" fill-opacity="0.30"/>
<rect x="2362.40" y="442.13" width="50.09" height="4.25" fill="#000" fill-opacity="0.30"/>
<rect x="2087.36" y="125.36" width="50.09" height="4.25" fill="#000" fill-opacity="0.30"/>
<rect x="2179.04" y="79.50" width="50.09" height="4.25" fill="#000" fill-opacity="0.30"/>
<rect x="2041.52" y="171.22" width="50.09" height="4.25" fill="#000" fill-opacity="0.30"/>
<rect x="2179.04" y="579.71" width="50.09" height="4.25" fill="#000" fill-opacity="0.30"/>
<rect x="2041.52" y="354.66" width="50.09" height="4.25" fill="#000" fill-opacity="0.30"/>
<rect x="2087.36" y="217.08" width="50.09" height="4.25" fill="#000" fill-opacity="0.30"/>
<rect x="2041.52" y="262.94" width="50.09" height="4.25" fill="#000" fill-opacity="0.30"/>
<rect x="1904.00" y="533.85" width="50.09" height="4.25" fill="#000" fill-opacity="0.30"/>
<rect x="2316.56" y="533.85" width="50.09" height="4.25" fill="#000" fill-opacity="0.30"/>
<rect x="2179.04" y="125.36" width="50.09" height="4.25" fill="#000" fill-opacity="0.30"/>
<rect x="2270.72" y="79.50" width="50.09" height="4.25" fill="#000" fill-opacity="0.30"/>
<rect x="2133.20" y="171.22" width="50.09" height="4.25" fill="#000" fill-opacity="0.30"/>
<rect x="2133.20" y="354.66" width="50.09" height="4.25" fill="#000" fill-opacity="0.30"/>
<rect x="1904.00" y="625.57" width="50.09" height="4.25" fill="#000" fill-opacity="0.30"/>
<rect x="2316.56" y="625.57" width="50.09" height="4.25" fill="#000" fill-opacity="0.30"/>
<rect x="2133.20" y="262.94" width="50.09" height="4.25" fill="#000" fill-opacity="0.30"/>
<rect x="1949.84" y="579.71" width="50.09" height="4.25" fill="#000" fill-opacity="0.30"/>
<rect x="1949.84" y="79.50" width="50.09" height="4.25" fill="#000" fill-opacity="0.30"/>
<rect x="2408.24" y="533.85" width="50.09" height="4.25" fill="#000" fill-opacity="0.30"/>
<rect x="2362.40" y="79.50" width="50.09" height="4.25" fill="#000" fill-opacity="0.30"/>
<rect x="2224.88" y="171.22" width="50.09" height="4.25" fill="#000" fill-opacity="0.30"/>
<rect x="2362.40" y="579.71" width="50.09" height="4.25" fill="#000" fill-opacity="0.30"/>
<rect x="2224.88" y="354.66" width="50.09" height="4.25" fill="#000" fill-opacity="0.30"/>
<rect x="2179.04" y="396.27" width="50.09" height="4.25" fill="#000" fill-opacity="0.30"/>
<rect x="2408.24" y="625.57" width="50.09" height="4.25" fill="#000" fill-opacity="0.30"/>
<rect x="2224.88" y="262.94" width="50.09" height="4.25" fill="#000" fill-opacity="0.30"/>
<rect x="2224.88" y="442.13" width="50.09" height="4.25" fill="#000" fill-opacity="0.30"/>
<rect x="2087.36" y="533.85" width="50.09" height="4.25" fill="#000" fill-opacity="0.30"/>
<rect x="1949.84" y="125.36" width="50.09" height="4.25" fill="#000" fill-opacity="0.30"/>
<rect x="2041.52" y="79.50" width="50.09" height="4.25" fill="#000" fill-opacity="0.30"/>
<rect x="1904.00" y="171.22" width="50.09" height="4.25" fill="#000" fill-opacity="0.30"/>
<rect x="2179.04" y="487.99" width="50.09" height="4.25" fill="#000" fill-opacity="0.30"/>
<rect x="2316.56" y="171.22" width="50.09" height="4.25" fill="#000" fill-opacity="0.30"/>
<rect x="1904.00" y="354.66" width="50.09" height="4.25" fill="#000" fill-opacity="0.30"/>
<rect x="2270.72" y="396.27" width="50.09" height="4.25" fill="#000" fill-opacity="0.30"/>
<rect x="2091.61" y="75.25" width="4.25" height="50.11" fill="#000" fill-opacity="0.32"/>
<rect x="2137.45" y="121.11" width="4.25" height="50.11" fill="#000" fill-opacity="0.32"/>
<rect x="2274.97" y="75.25" width="4.25" height="50.11" fill="#000" fill-opacity="0.32"/>
<rect x="2137.45" y="538.10" width="4.25" height="50.11" fill="#000" fill-opacity="0.32"/>
<rect x="2274.97" y="492.24" width="4.25" height="50.11" fill="#000" fill-opacity="0.32"/>
<rect x="2320.81" y="446.38" width="4.25" height="50.11" fill="#000" fill-opacity="0.32"/>
<rect x="1908.25" y="304.55" width="4.25" height="50.11" fill="#000" fill-opacity="0.32"/>
<rect x="1999.93" y="166.97" width="4.25" height="50.11" fill="#000" fill-opacity="0.32"/>
<rect x="1999.93" y="583.96" width="4.25" height="50.11" fill="#000" fill-opacity="0.32"/>
<rect x="2183.29" y="166.97" width="4.25" height="50.11" fill="#000" fill-opacity="0.32"/>
<rect x="2229.13" y="121.11" width="4.25" height="50.11" fill="#000" fill-opacity="0.32"/>
<rect x="2183.29" y="583.96" width="4.25" height="50.11" fill="#000" fill-opacity="0.32"/>
<rect x="2091.61" y="166.97" width="4.25" height="50.11" fill="#000" fill-opacity="0.32"/>
<rect x="2045.77" y="350.41" width="4.25" height="54.36" fill="#000" fill-opacity="0.32"/>
<rect x="2137.45" y="212.83" width="4.25" height="50.11" fill="#000" fill-opacity="0.32"/>
<rect x="2320.81" y="121.11" width="4.25" height="50.11" fill="#000" fill-opacity="0.32"/>
<rect x="2320.81" y="538.10" width="4.25" height="50.11" fill="#000" fill-opacity="0.32"/>
<rect x="1908.25" y="400.52" width="4.25" height="50.11" fill="#000" fill-opacity="0.32"/>
<rect x="1999.93" y="258.69" width="4.25" height="50.11" fill="#000" fill-opacity="0.32"/>
<rect x="2412.49" y="400.52" width="4.25" height="50.11" fill="#000" fill-opacity="0.32"/>
<rect x="1954.09" y="446.38" width="4.25" height="50.11" fill="#000" fill-opacity="0.32"/>
<rect x="2183.29" y="258.69" width="4.25" height="50.11" fill="#000" fill-opacity="0.32"/>
<rect x="2229.13" y="212.83" width="4.25" height="50.11" fill="#000" fill-opacity="0.32"/>
<rect x="2045.77" y="446.38" width="4.25" height="50.11" fill="#000" fill-opacity="0.32"/>
<rect x="2137.45" y="304.55" width="4.25" height="50.11" fill="#000" fill-opacity="0.32"/>
<rect x="1908.25" y="75.25" width="4.25" height="50.11" fill="#000" fill-opacity="0.32"/>
<rect x="2412.49" y="75.25" width="4.25" height="50.11" fill="#000" fill-opacity="0.32"/>
<rect x="1908.25" y="492.24" width="4.25" height="50.11" fill="#000" fill-opacity="0.32"/>
<rect x="2412.49" y="492.24" width="4.25" height="50.11" fill="#000" fill-opacity="0.32"/>
<rect x="1954.09" y="538.10" width="4.25" height="50.11" fill="#000" fill-opacity="0.32"/>
<rect x="2183.29" y="350.41" width="4.25" height="54.36" fill="#000" fill-opacity="0.32"/>
<rect x="2229.13" y="304.55" width="4.25" height="50.11" fill="#000" fill-opacity="0.32"/>
<rect x="2045.77" y="121.11" width="4.25" height="50.11" fill="#000" fill-opacity="0.32"/>
<rect x="1908.25" y="166.97" width="4.25" height="50.11" fill="#000" fill-opacity="0.32"/>
<rect x="1954.09" y="212.83" width="4.25" height="50.11" fill="#000" fill-opacity="0.32"/>
<rect x="2229.13" y="400.52" width="4.25" height="50.11" fill="#000" fill-opacity="0.32"/>
<rect x="2045.77" y="212.83" width="4.25" height="50.11" fill="#000" fill-opacity="0.32"/>
<rect x="2137.45" y="75.25" width="4.25" height="50.11" fill="#000" fill-opacity="0.32"/>
<rect x="2320.81" y="400.52" width="4.25" height="50.11" fill="#000" fill-opacity="0.32"/>
<rect x="2366.65" y="446.38" width="4.25" height="50.11" fill="#000" fill-opacity="0.32"/>
<rect x="1954.09" y="304.55" width="4.25" height="50.11" fill="#000" fill-opacity="0.32"/>
<rect x="2183.29" y="121.11" width="4.25" height="50.11" fill="#000" fill-opacity="0.32"/>
<rect x="2229.13" y="75.25" width="4.25" height="50.11" fill="#000" fill-opacity="0.32"/>
<rect x="2229.13" y="492.24" width="4.25" height="50.11" fill="#000" fill-opacity="0.32"/>
<rect x="2091.61" y="258.69" width="4.25" height="50.11" fill="#000" fill-opacity="0.32"/>
<rect x="2320.81" y="75.25" width="4.25" height="50.11" fill="#000" fill-opacity="0.32"/>
<rect x="2320.81" y="492.24" width="4.25" height="50.11" fill="#000" fill-opacity="0.32"/>
<rect x="2366.65" y="121.11" width="4.25" height="50.11" fill="#000" fill-opacity="0.32"/>
<rect x="2366.65" y="538.10" width="4.25" height="50.11" fill="#000" fill-opacity="0.32"/>
<rect x="1954.09" y="400.52" width="4.25" height="50.11" fill="#000" fill-opacity="0.32"/>
<rect x="1999.93" y="350.41" width="4.25" height="54.36" fill="#000" fill-opacity="0.32"/>
<rect x="2229.13" y="166.97" width="4.25" height="50.11" fill="#000" fill-opacity="0.32"/>
<rect x="2229.13" y="583.96" width="4.25" height="50.11" fill="#000" fill-opacity="0.32"/>
<rect x="2137.45" y="258.69" width="4.25" height="50.11" fill="#000" fill-opacity="0.32"/>
<rect x="2091.61" y="350.41" width="4.25" height="54.36" fill="#000" fill-opacity="0.32"/>
<rect x="2274.97" y="350.41" width="4.25" height="54.36" fill="#000" fill-opacity="0.32"/>
<rect x="1954.09" y="75.25" width="4.25" height="50.11" fill="#000" fill-opacity="0.32"/>
<rect x="1954.09" y="492.24" width="4.25" height="50.11" fill="#000" fill-opacity="0.32"/>
<rect x="1908.25" y="583.96" width="4.25" height="50.11" fill="#000" fill-opacity="0.32"/>
<rect x="1999.93" y="446.38" width="4.25" height="50.11" fill="#000" fill-opacity="0.32"/>
<rect x="2412.49" y="583.96" width="4.25" height="50.11" fill="#000" fill-opacity="0.32"/>
<rect x="2045.77" y="75.25" width="4.25" height="50.11" fill="#000" fill-opacity="0.32"/>
<rect x="2137.45" y="350.41" width="4.25" height="54.36" fill="#000" fill-opacity="0.32"/>
<rect x="2274.97" y="446.38" width="4.25" height="50.11" fill="#000" fill-opacity="0.32"/>
<rect x="1954.09" y="166.97" width="4.25" height="50.11" fill="#000" fill-opacity="0.32"/>
<rect x="1908.25" y="258.69" width="4.25" height="50.11" fill="#000" fill-opacity="0.32"/>
<rect x="1999.93" y="121.11" width="4.25" height="50.11" fill="#000" fill-opacity="0.32"/>
<rect x="1954.09" y="583.96" width="4.25" height="50.11" fill="#000" fill-opacity="0.32"/>
<rect x="1999.93" y="538.10" width="4.25" height="50.11" fill="#000" fill-opacity="0.32"/>
<rect x="2045.77" y="166.97" width="4.25" height="50.11" fill="#000" fill-opacity="0.32"/>
<rect x="2091.61" y="121.11" width="4.25" height="50.11" fill="#000" fill-opacity="0.32"/>
<rect x="2091.61" y="538.10" width="4.25" height="50.11" fill="#000" fill-opacity="0.32"/>
<rect x="2274.97" y="121.11" width="4.25" height="50.11" fill="#000" fill-opacity="0.32"/>
<rect x="2366.65" y="400.52" width="4.25" height="50.11" fill="#000" fill-opacity="0.32"/>
<rect x="1954.09" y="258.69" width="4.25" height="50.11" fill="#000" fill-opacity="0.32"/>
<rect x="1908.25" y="350.41" width="4.25" height="54.36" fill="#000" fill-opacity="0.32"/>
<rect x="1999.93" y="212.83" width="4.25" height="50.11" fill="#000" fill-opacity="0.32"/>
<rect x="2045.77" y="258.69" width="4.25" height="50.11" fill="#000" fill-opacity="0.32"/>
<rect x="2091.61" y="212.83" width="4.25" height="50.11" fill="#000" fill-opacity="0.32"/>
<rect x="2274.97" y="212.83" width="4.25" height="50.11" fill="#000" fill-opacity="0.32"/>
<rect x="2366.65" y="75.25" width="4.25" height="50.11" fill="#000" fill-opacity="0.32"/>
<rect x="2366.65" y="492.24" width="4.25" height="50.11" fill="#000" fill-opacity="0.32"/>
<rect x="1954.09" y="350.41" width="4.25" height="54.36" fill="#000" fill-opacity="0.32"/>
<rect x="1908.25" y="446.38" width="4.25" height="50.11" fill="#000" fill-opacity="0.32"/>
<rect x="1999.93" y="304.55" width="4.25" height="50.11" fill="#000" fill-opacity="0.32"/>
<rect x="2320.81" y="583.96" width="4.25" height="50.11" fill="#000" fill-opacity="0.32"/>
<rect x="2183.29" y="304.55" width="4.25" height="50.11" fill="#000" fill-opacity="0.32"/>
<rect x="2091.61" y="304.55" width="4.25" height="50.11" fill="#000" fill-opacity="0.32"/>
<rect x="2320.81" y="258.69" width="4.25" height="50.11" fill="#000" fill-opacity="0.32"/>
<rect x="1908.25" y="121.11" width="4.25" height="50.11" fill="#000" fill-opacity="0.32"/>
<rect x="2412.49" y="121.11" width="4.25" height="50.11" fill="#000" fill-opacity="0.32"/>
<rect x="2366.65" y="583.96" width="4.25" height="50.11" fill="#000" fill-opacity="0.32"/>
<rect x="1908.25" y="538.10" width="4.25" height="50.11" fill="#000" fill-opacity="0.32"/>
<rect x="1999.93" y="400.52" width="4.25" height="50.11" fill="#000" fill-opacity="0.32"/>
<rect x="2412.49" y="538.10" width="4.25" height="50.11" fill="#000" fill-opacity="0.32"/>
<rect x="2183.29" y="400.52" width="4.25" height="50.11" fill="#000" fill-opacity="0.32"/>
<rect x="2229.13" y="350.41" width="4.25" height="54.36" fill="#000" fill-opacity="0.32"/>
<rect x="2274.97" y="400.52" width="4.25" height="50.11" fill="#000" fill-opacity="0.32"/>
<rect x="2366.65" y="258.69" width="4.25" height="50.11" fill="#000" fill-opacity="0.32"/>
<rect x="1954.09" y="121.11" width="4.25" height="50.11" fill="#000" fill-opacity="0.32"/>
<rect x="1908.25" y="212.83" width="4.25" height="50.11" fill="#000" fill-opacity="0.32"/>
<rect x="1999.93" y="75.25" width="4.25" height="50.11" fill="#000" fill-opacity="0.32"/>
<rect x="1999.93" y="492.24" width="4.25" height="50.11" fill="#000" fill-opacity="0.32"/>
<rect x="2183.29" y="75.25" width="4.25" height="50.11" fill="#000" fill-opacity="0.32"/>
<rect x="2183.29" y="492.24" width="4.25" height="50.11" fill="#000" fill-opacity="0.32"/>
<rect x="2229.13" y="446.38" width="4.25" height="50.11" fill="#000" fill-opacity="0.32"/>
<rect x="1904.00" y="258.69" width="50.09" height="4.25" fill="#000" fill-opacity="0.72"/>
<rect x="2316.56" y="258.69" width="50.09" height="4.25" fill="#000" fill-opacity="0.72"/>
<rect x="1949.84" y="304.55" width="50.09" height="4.25" fill="#000" fill-opacity="0.72"/>
<rect x="1904.00" y="446.38" width="50.09" height="4.25" fill="#000" fill-opacity="0.72"/>
<rect x="2316.56" y="446.38" width="50.09" height="4.25" fill="#000" fill-opacity="0.72"/>
<rect x="2179.04" y="538.10" width="50.09" height="4.25" fill="#000" fill-opacity="0.72"/>
<rect x="2270.72" y="492.24" width="50.09" height="4.25" fill="#000" fill-opacity="0.72"/>
<rect x="2133.20" y="75.25" width="50.09" height="4.25" fill="#000" fill-opacity="0.72"/>
<rect x="1995.68" y="166.97" width="50.09" height="4.25" fill="#000" fill-opacity="0.72"/>
<rect x="2408.24" y="166.97" width="50.09" height="4.25" fill="#000" fill-opacity="0.72"/>
<rect x="1949.84" y="400.52" width="50.09" height="4.25" fill="#000" fill-opacity="0.72"/>
<rect x="2362.40" y="400.52" width="50.09" height="4.25" fill="#000" fill-opacity="0.72"/>
<rect x="1995.68" y="258.69" width="50.09" height="4.25" fill="#000" fill-opacity="0.72"/>
<rect x="2179.04" y="212.83" width="50.09" height="4.25" fill="#000" fill-opacity="0.72"/>
<rect x="2041.52" y="304.55" width="50.09" height="4.25" fill="#000" fill-opacity="0.72"/>
<rect x="1995.68" y="446.38" width="50.09" height="4.25" fill="#000" fill-opacity="0.72"/>
<rect x="1949.84" y="492.24" width="50.09" height="4.25" fill="#000" fill-opacity="0.72"/>
<rect x="2362.40" y="492.24" width="50.09" height="4.25" fill="#000" fill-opacity="0.72"/>
<rect x="2224.88" y="75.25" width="50.09" height="4.25" fill="#000" fill-opacity="0.72"/>
<rect x="2087.36" y="166.97" width="50.09" height="4.25" fill="#000" fill-opacity="0.72"/>
<rect x="2270.72" y="121.11" width="50.09" height="4.25" fill="#000" fill-opacity="0.72"/>
<rect x="2087.36" y="350.41" width="50.09" height="4.25" fill="#000" fill-opacity="0.72"/>
<rect x="2041.52" y="400.52" width="50.09" height="4.25" fill="#000" fill-opacity="0.72"/>
<rect x="2133.20" y="304.55" width="50.09" height="4.25" fill="#000" fill-opacity="0.72"/>
<rect x="1904.00" y="75.25" width="50.09" height="4.25" fill="#000" fill-opacity="0.72"/>
<rect x="1904.00" y="583.96" width="50.09" height="4.25" fill="#000" fill-opacity="0.72"/>
<rect x="2316.56" y="75.25" width="50.09" height="4.25" fill="#000" fill-opacity="0.72"/>
<rect x="2316.56" y="583.96" width="50.09" height="4.25" fill="#000" fill-opacity="0.72"/>
<rect x="2362.40" y="121.11" width="50.09" height="4.25" fill="#000" fill-opacity="0.72"/>
<rect x="2179.04" y="350.41" width="50.09" height="4.25" fill="#000" fill-opacity="0.72"/>
<rect x="2133.20" y="400.52" width="50.09" height="4.25" fill="#000" fill-opacity="0.72"/>
<rect x="1949.84" y="212.83" width="50.09" height="4.25" fill="#000" fill-opacity="0.72"/>
<rect x="1995.68" y="75.25" width="50.09" height="4.25" fill="#000" fill-opacity="0.72"/>
<rect x="2041.52" y="121.11" width="50.09" height="4.25" fill="#000" fill-opacity="0.72"/>
<rect x="2224.88" y="400.52" width="50.09" height="4.25" fill="#000" fill-opacity="0.72"/>
<rect x="2179.04" y="629.82" width="50.09" height="4.25" fill="#000" fill-opacity="0.72"/>
<rect x="2041.52" y="212.83" width="50.09" height="4.25" fill="#000" fill-opacity="0.72"/>
<rect x="1904.00" y="304.55" width="50.09" height="4.25" fill="#000" fill-opacity="0.72"/>
<rect x="2316.56" y="304.55" width="50.09" height="4.25" fill="#000" fill-opacity="0.72"/>
<rect x="2224.88" y="492.24" width="50.09" height="4.25" fill="#000" fill-opacity="0.72"/>
<rect x="2087.36" y="583.96" width="50.09" height="4.25" fill="#000" fill-opacity="0.72"/>
<rect x="2270.72" y="538.10" width="50.09" height="4.25" fill="#000" fill-opacity="0.72"/>
<rect x="2133.20" y="121.11" width="50.09" height="4.25" fill="#000" fill-opacity="0.72"/>
<rect x="1949.84" y="350.41" width="50.09" height="4.25" fill="#000" fill-opacity="0.72"/>
<rect x="1904.00" y="400.52" width="50.09" height="4.25" fill="#000" fill-opacity="0.72"/>
<rect x="2087.36" y="258.69" width="50.09" height="4.25" fill="#000" fill-opacity="0.72"/>
<rect x="1904.00" y="492.24" width="50.09" height="4.25" fill="#000" fill-opacity="0.72"/>
<rect x="2316.56" y="492.24" width="50.09" height="4.25" fill="#000" fill-opacity="0.72"/>
<rect x="1949.84" y="538.10" width="50.09" height="4.25" fill="#000" fill-opacity="0.72"/>
<rect x="2362.40" y="538.10" width="50.09" height="4.25" fill="#000" fill-opacity="0.72"/>
<rect x="2224.88" y="121.11" width="50.09" height="4.25" fill="#000" fill-opacity="0.72"/>
<rect x="2179.04" y="166.97" width="50.09" height="4.25" fill="#000" fill-opacity="0.72"/>
<rect x="1949.84" y="629.82" width="50.09" height="4.25" fill="#000" fill-opacity="0.72"/>
<rect x="2362.40" y="629.82" width="50.09" height="4.25" fill="#000" fill-opacity="0.72"/>
<rect x="2224.88" y="212.83" width="50.09" height="4.25" fill="#000" fill-opacity="0.72"/>
<rect x="2087.36" y="304.55" width="50.09" height="4.25" fill="#000" fill-opacity="0.72"/>
<rect x="1995.68" y="492.24" width="50.09" height="4.25" fill="#000" fill-opacity="0.72"/>
<rect x="2179.04" y="446.38" width="50.09" height="4.25" fill="#000" fill-opacity="0.72"/>
<rect x="1904.00" y="121.11" width="50.09" height="4.25" fill="#000" fill-opacity="0.72"/>
<rect x="2316.56" y="121.11" width="50.09" height="4.25" fill="#000" fill-opacity="0.72"/>
<rect x="2408.24" y="75.25" width="50.09" height="4.25" fill="#000" fill-opacity="0.72"/>
<rect x="2270.72" y="166.97" width="50.09" height="4.25" fill="#000" fill-opacity="0.72"/>
<rect x="2408.24" y="583.96" width="50.09" height="4.25" fill="#000" fill-opacity="0.72"/>
<rect x="1904.00" y="212.83" width="50.09" height="4.25" fill="#000" fill-opacity="0.72"/>
<rect x="2179.04" y="304.55" width="50.09" height="4.25" fill="#000" fill-opacity="0.72"/>
<rect x="2270.72" y="446.38" width="50.09" height="4.25" fill="#000" fill-opacity="0.72"/>
<rect x="1995.68" y="121.11" width="50.09" height="4.25" fill="#000" fill-opacity="0.72"/>
<rect x="2087.36" y="75.25" width="50.09" height="4.25" fill="#000" fill-opacity="0.72"/>
<rect x="1949.84" y="166.97" width="50.09" height="4.25" fill="#000" fill-opacity="0.72"/>
<rect x="2408.24" y="121.11" width="50.09" height="4.25" fill="#000" fill-opacity="0.72"/>
<rect x="2362.40" y="166.97" width="50.09" height="4.25" fill="#000" fill-opacity="0.72"/>
<rect x="1995.68" y="212.83" width="50.09" height="4.25" fill="#000" fill-opacity="0.72"/>
<rect x="1949.84" y="258.69" width="50.09" height="4.25" fill="#000" fill-opacity="0.72"/>
<rect x="1949.84" y="446.38" width="50.09" height="4.25" fill="#000" fill-opacity="0.72"/>
<rect x="2362.40" y="446.38" width="50.09" height="4.25" fill="#000" fill-opacity="0.72"/>
<rect x="2087.36" y="121.11" width="50.09" height="4.25" fill="#000" fill-opacity="0.72"/>
<rect x="2179.04" y="75.25" width="50.09" height="4.25" fill="#000" fill-opacity="0.72"/>
<rect x="2041.52" y="166.97" width="50.09" height="4.25" fill="#000" fill-opacity="0.72"/>
<rect x="2179.04" y="583.96" width="50.09" height="4.25" fill="#000" fill-opacity="0.72"/>
<rect x="2041.52" y="350.41" width="50.09" height="4.25" fill="#000" fill-opacity="0.72"/>
<rect x="2087.36" y="212.83" width="50.09" height="4.25" fill="#000" fill-opacity="0.72"/>
<rect x="2041.52" y="258.69" width="50.09" height="4.25" fill="#000" fill-opacity="0.72"/>
<rect x="1904.00" y="538.10" width="50.09" height="4.25" fill="#000" fill-opacity="0.72"/>
<rect x="2316.56" y="538.10" width="50.09" height="4.25" fill="#000" fill-opacity="0.72"/>
<rect x="2179.04" y="121.11" width="50.09" height="4.25" fill="#000" fill-opacity="0.72"/>
<rect x="2270.72" y="75.25" width="50.09" height="4.25" fill="#000" fill-opacity="0.72"/>
<rect x="2133.20" y="166.97" width="50.09" height="4.25" fill="#000" fill-opacity="0.72"/>
<rect x="2133.20" y="350.41" width="50.09" height="4.25" fill="#000" fill-opacity="0.72"/>
<rect x="1904.00" y="629.82" width="50.09" height="4.25" fill="#000" fill-opacity="0.72"/>
<rect x="2316.56" y="629.82" width="50.09" height="4.25" fill="#000" fill-opacity="0.72"/>
<rect x="2133.20" y="258.69" width="50.09" height="4.25" fill="#000" fill-opacity="0.72"/>
<rect x="1949.84" y="583.96" width="50.09" height="4.25" fill="#000" fill-opacity="0.72"/>
<rect x="1949.84" y="75.25" width="50.09" height="4.25" fill="#000" fill-opacity="0.72"/>
<rect x="2408.24" y="538.10" width="50.09" height="4.25" fill="#000" fill-opacity="0.72"/>
<rect x="2362.40" y="75.25" width="50.09" height="4.25" fill="#000" fill-opacity="0.72"/>
<rect x="2224.88" y="166.97" width="50.09" height="4.25" fill="#000" fill-opacity="0.72"/>
<rect x="2362.40" y="583.96" width="50.09" height="4.25" fill="#000" fill-opacity="0.72"/>
<rect x="2224.88" y="350.41" width="50.09" height="4.25" fill="#000" fill-opacity="0.72"/>
<rect x="2179.04" y="400.52" width="50.09" height="4.25" fill="#000" fill-opacity="0.72"/>
<rect x="2408.24" y="629.82" width="50.09" height="4.25" fill="#000" fill-opacity="0.72"/>
<rect x="2224.88" y="258.69" width="50.09" height="4.25" fill="#000" fill-opacity="0.72"/>
<rect x="2224.88" y="446.38" width="50.09" height="4.25" fill="#000" fill-opacity="0.72"/>
<rect x="2087.36" y="538.10" width="50.09" height="4.25" fill="#000" fill-opacity="0.72"/>
<rect x="1949.84" y="121.11" width="50.09" height="4.25" fill="#000" fill-opacity="0.72"/>
<rect x="2041.52" y="75.25" width="50.09" height="4.25" fill="#000" fill-opacity="0.72"/>
<rect x="1904.00" y="166.97" width="50.09" height="4.25" fill="#000" fill-opacity="0.72"/>
<rect x="2179.04" y="492.24" width="50.09" height="4.25" fill="#000" fill-opacity="0.72"/>
<rect x="2316.56" y="166.97" width="50.09" height="4.25" fill="#000" fill-opacity="0.72"/>
<rect x="1904.00" y="350.41" width="50.09" height="4.25" fill="#000" fill-opacity="0.72"/>
<rect x="2270.72" y="400.52" width="50.09" height="4.25" fill="#000" fill-opacity="0.72"/>
<rect x="2087.36" y="75.25" width="4.25" height="50.11" fill="#000" fill-opacity="0.74"/>
<rect x="2133.20" y="121.11" width="4.25" height="50.11" fill="#000" fill-opacity="0.74"/>
<rect x="2270.72" y="75.25" width="4.25" height="50.11" fill="#000" fill-opacity="0.74"/>
<rect x="2133.20" y="538.10" width="4.25" height="50.11" fill="#000" fill-opacity="0.74"/>
<rect x="2270.72" y="492.24" width="4.25" height="50.11" fill="#000" fill-opacity="0.74"/>
<rect x="2316.56" y="446.38" width="4.25" height="50.11" fill="#000" fill-opacity="0.74"/>
<rect x="1904.00" y="304.55" width="4.25" height="50.11" fill="#000" fill-opacity="0.74"/>
<rect x="1995.68" y="166.97" width="4.25" height="50.11" fill="#000" fill-opacity="0.74"/>
<rect x="1995.68" y="583.96" width="4.25" height="50.11" fill="#000" fill-opacity="0.74"/>
<rect x="2179.04" y="166.97" width="4.25" height="50.11" fill="#000" fill-opacity="0.74"/>
<rect x="2224.88" y="121.11" width="4.25" height="50.11" fill="#000" fill-opacity="0.74"/>
<rect x="2179.04" y="583.96" width="4.25" height="50.11" fill="#000" fill-opacity="0.74"/>
<rect x="2087.36" y="166.97" width="4.25" height="50.11" fill="#000" fill-opacity="0.74"/>
<rect x="2041.52" y="350.41" width="4.25" height="54.36" fill="#000" fill-opacity="0.74"/>
<rect x="2133.20" y="212.83" width="4.25" height="50.11" fill="#000" fill-opacity="0.74"/>
<rect x="2316.56" y="121.11" width="4.25" height="50.11" fill="#000" fill-opacity="0.74"/>
<rect x="2316.56" y="538.10" width="4.25" height="50.11" fill="#000" fill-opacity="0.74"/>
<rect x="1904.00" y="400.52" width="4.25" height="50.11" fill="#000" fill-opacity="0.74"/>
<rect x="1995.68" y="258.69" width="4.25" height="50.11" fill="#000" fill-opacity="0.74"/>
<rect x="2408.24" y="400.52" width="4.25" height="50.11" fill="#000" fill-opacity="0.74"/>
<rect x="1949.84" y="446.38" width="4.25" height="50.11" fill="#000" fill-opacity="0.74"/>
<rect x="2179.04" y="258.69" width="4.25" height="50.11" fill="#000" fill-opacity="0.74"/>
<rect x="2224.88" y="212.83" width="4.25" height="50.11" fill="#000" fill-opacity="0.74"/>
<rect x="2041.52" y="446.38" width="4.25" height="50.11" fill="#000" fill-opacity="0.74"/>
<rect x="2133.20" y="304.55" width="4.25" height="50.11" fill="#000" fill-opacity="0.74"/>
<rect x="1904.00" y="75.25" width="4.25" height="50.11" fill="#000" fill-opacity="0.74"/>
<rect x="2408.24" y="75.25" width="4.25" height="50.11" fill="#000" fill-opacity="0.74"/>
<rect x="1904.00" y="492.24" width="4.25" height="50.11" fill="#000" fill-opacity="0.74"/>
<rect x="2408.24" y="492.24" width="4.25" height="50.11" fill="#000" fill-opacity="0.74"/>
<rect x="1949.84" y="538.10" width="4.25" height="50.11" fill="#000" fill-opacity="0.74"/>
<rect x="2179.04" y="350.41" width="4.25" height="54.36" fill="#000" fill-opacity="0.74"/>
<rect x="2224.88" y="304.55" width="4.25" height="50.11" fill="#000" fill-opacity="0.74"/>
<rect x="2041.52" y="121.11" width="4.25" height="50.11" fill="#000" fill-opacity="0.74"/>
<rect x="1904.00" y="166.97" width="4.25" height="50.11" fill="#000" fill-opacity="0.74"/>
<rect x="1949.84" y="212.83" width="4.25" height="50.11" fill="#000" fill-opacity="0.74"/>
<rect x="2224.88" y="400.52" width="4.25" height="50.11" fill="#000" fill-opacity="0.74"/>
<rect x="2041.52" y="212.83" width="4.25" height="50.11" fill="#000" fill-opacity="0.74"/>
<rect x="2133.20" y="75.25" width="4.25" height="50.11" fill="#000" fill-opacity="0.74"/>
<rect x="2316.56" y="400.52" width="4.25" height="50.11" fill="#000" fill-opacity="0.74"/>
<rect x="2362.40" y="446.38" width="4.25" height="50.11" fill="#000" fill-opacity="0.74"/>
<rect x="1949.84" y="304.55" width="4.25" height="50.11" fill="#000" fill-opacity="0.74"/>
<rect x="2179.04" y="121.11" width="4.25" height="50.11" fill="#000" fill-opacity="0.74"/>
<rect x="2224.88" y="75.25" width="4.25" height="50.11" fill="#000" fill-opacity="0.74"/>
<rect x="2224.88" y="492.24" width="4.25" height="50.11" fill="#000" fill-opacity="0.74"/>
<rect x="2087.36" y="258.69" width="4.25" height="50.11" fill="#000" fill-opacity="0.74"/>
<rect x="2316.56" y="75.25" width="4.25" height="50.11" fill="#000" fill-opacity="0.74"/>
<rect x="2316.56" y="492.24" width="4.25" height="50.11" fill="#000" fill-opacity="0.74"/>
<rect x="2362.40" y="121.11" width="4.25" height="50.11" fill="#000" fill-opacity="0.74"/>
<rect x="2362.40" y="538.10" width="4.25" height="50.11" fill="#000" fill-opacity="0.74"/>
<rect x="1949.84" y="400.52" width="4.25" height="50.11" fill="#000" fill-opacity="0.74"/>
<rect x="1995.68" y="350.41" width="4.25" height="54.36" fill="#000" fill-opacity="0.74"/>
<rect x="2224.88" y="166.97" width="4.25" height="50.11" fill="#000" fill-opacity="0.74"/>
<rect x="2224.88" y="583.96" width="4.25" height="50.11" fill="#000" fill-opacity="0.74"/>
<rect x="2454.08" y="121.11" width="8.50" height="50.11" fill="#000" fill-opacity="0.50"/>
<rect x="2454.08" y="538.10" width="8.50" height="50.11" fill="#000" fill-opacity="0.50"/>
<rect x="2133.20" y="258.69" width="4.25" height="50.11" fill="#000" fill-opacity="0.74"/>
<rect x="2087.36" y="350.41" width="4.25" height="54.36" fill="#000" fill-opacity="0.74"/>
<rect x="2270.72" y="350.41" width="4.25" height="54.36" fill="#000" fill-opacity="0.74"/>
<rect x="1949.84" y="75.25" width="4.25" height="50.11" fill="#000" fill-opacity="0.74"/>
<rect x="1949.84" y="492.24" width="4.25" height="50.11" fill="#000" fill-opacity="0.74"/>
<rect x="1904.00" y="583.96" width="4.25" height="50.11" fill="#000" fill-opacity="0.74"/>
<rect x="1995.68" y="446.38" width="4.25" height="50.11" fill="#000" fill-opacity="0.74"/>
<rect x="2408.24" y="583.96" width="4.25" height="50.11" fill="#000" fill-opacity="0.74"/>
<rect x="2041.52" y="75.25" width="4.25" height="50.11" fill="#000" fill-opacity="0.74"/>
<rect x="2133.20" y="350.41" width="4.25" height="54.36" fill="#000" fill-opacity="0.74"/>
<rect x="2270.72" y="446.38" width="4.25" height="50.11" fill="#000" fill-opacity="0.74"/>
<rect x="1949.84" y="166.97" width="4.25" height="50.11" fill="#000" fill-opacity="0.74"/>
<rect x="1904.00" y="258.69" width="4.25" height="50.11" fill="#000" fill-opacity="0.74"/>
<rect x="1995.68" y="121.11" width="4.25" height="50.11" fill="#000" fill-opacity="0.74"/>
<rect x="1949.84" y="583.96" width="4.25" height="50.11" fill="#000" fill-opacity="0.74"/>
<rect x="1995.68" y="538.10" width="4.25" height="50.11" fill="#000" fill-opacity="0.74"/>
<rect x="2041.52" y="166.97" width="4.25" height="50.11" fill="#000" fill-opacity="0.74"/>
<rect x="2087.36" y="121.11" width="4.25" height="50.11" fill="#000" fill-opacity="0.74"/>
<rect x="2087.36" y="538.10" width="4.25" height="50.11" fill="#000" fill-opacity="0.74"/>
<rect x="2270.72" y="121.11" width="4.25" height="50.11" fill="#000" fill-opacity="0.74"/>
<rect x="2362.40" y="400.52" width="4.25" height="50.11" fill="#000" fill-opacity="0.74"/>
<rect x="1949.84" y="258.69" width="4.25" height="50.11" fill="#000" fill-opacity="0.74"/>
<rect x="1904.00" y="350.41" width="4.25" height="54.36" fill="#000" fill-opacity="0.74"/>
<rect x="1995.68" y="212.83" width="4.25" height="50.11" fill="#000" fill-opacity="0.74"/>
<rect x="2041.52" y="258.69" width="4.25" height="50.11" fill="#000" fill-opacity="0.74"/>
<rect x="2087.36" y="212.83" width="4.25" height="50.11" fill="#000" fill-opacity="0.74"/>
<rect x="2270.72" y="212.83" width="4.25" height="50.11" fill="#000" fill-opacity="0.74"/>
<rect x="2362.40" y="75.25" width="4.25" height="50.11" fill="#000" fill-opacity="0.74"/>
<rect x="2362.40" y="492.24" width="4.25" height="50.11" fill="#000" fill-opacity="0.74"/>
<rect x="1949.84" y="350.41" width="4.25" height="54.36" fill="#000" fill-opacity="0.74"/>
<rect x="1904.00" y="446.38" width="4.25" height="50.11" fill="#000" fill-opacity="0.74"/>
<rect x="1995.68" y="304.55" width="4.25" height="50.11" fill="#000" fill-opacity="0.74"/>
<rect x="2316.56" y="583.96" width="4.25" height="50.11" fill="#000" fill-opacity="0.74"/>
<rect x="2179.04" y="304.55" width="4.25" height="50.11" fill="#000" fill-opacity="0.74"/>
<rect x="2454.08" y="75.25" width="8.50" height="50.11" fill="#000" fill-opacity="0.50"/>
<rect x="2087.36" y="304.55" width="4.25" height="50.11" fill="#000" fill-opacity="0.74"/>
<rect x="2316.56" y="258.69" width="4.25" height="50.11" fill="#000" fill-opacity="0.74"/>
<rect x="1904.00" y="121.11" width="4.25" height="50.11" fill="#000" fill-opacity="0.74"/>
<rect x="2408.24" y="121.11" width="4.25" height="50.11" fill="#000" fill-opacity="0.74"/>
<rect x="2362.40" y="583.96" width="4.25" height="50.11" fill="#000" fill-opacity="0.74"/>
<rect x="1904.00" y="538.10" width="4.25" height="50.11" fill="#000" fill-opacity="0.74"/>
<rect x="1995.68" y="400.52" width="4.25" height="50.11" fill="#000" fill-opacity="0.74"/>
<rect x="2408.24" y="538.10" width="4.25" height="50.11" fill="#000" fill-opacity="0.74"/>
<rect x="2179.04" y="400.52" width="4.25" height="50.11" fill="#000" fill-opacity="0.74"/>
<rect x="2224.88" y="350.41" width="4.25" height="54.36" fill="#000" fill-opacity="0.74"/>
<rect x="2454.08" y="583.96" width="8.50" height="50.11" fill="#000" fill-opacity="0.50"/>
<rect x="2270.72" y="400.52" width="4.25" height="50.11" fill="#000" fill-opacity="0.74"/>
<rect x="2362.40" y="258.69" width="4.25" height="50.11" fill="#000" fill-opacity="0.74"/>
<rect x="1949.84" y="121.11" width="4.25" height="50.11" fill="#000" fill-opacity="0.74"/>
<rect x="1904.00" y="212.83" width="4.25" height="50.11" fill="#000" fill-opacity="0.74"/>
<rect x="1995.68" y="75.25" width="4.25" height="50.11" fill="#000" fill-opacity="0.74"/>
<rect x="1995.68" y="492.24" width="4.25" height="50.11" fill="#000" fill-opacity="0.74"/>
<rect x="2179.04" y="75.25" width="4.25" height="50.11" fill="#000" fill-opacity="0.74"/>
<rect x="2179.04" y="492.24" width="4.25" height="50.11" fill="#000" fill-opacity="0.74"/>
<rect x="2224.88" y="446.38" width="4.25" height="50.11" fill="#000" fill-opacity="0.74"/>
<rect x="2454.00" y="171.22" width="8.30" height="366.88" fill="#000" fill-opacity="0.45"/>
<rect x="1999.93" y="629.80" width="362.47" height="4.20" fill="#000" fill-opacity="0.55"/>
<rect x="1999.93" y="625.60" width="362.47" height="4.20" fill="#000" fill-opacity="0.30"/>
<text x="85.57" y="712.30" textLength="71.36" lengthAdjust="spacingAndGlyphs"><tspan font-size="60.5">(</tspan><tspan font-size="55">a</tspan><tspan font-size="60.5">)</tspan></text>
<text x="173.25" y="712.30" textLength="205.29" lengthAdjust="spacingAndGlyphs"><tspan font-size="55">Random</tspan></text>
<text x="393.76" y="712.30" textLength="223.21" lengthAdjust="spacingAndGlyphs"><tspan font-size="55">attention</tspan></text>
<text x="697.19" y="712.30" textLength="71.62" lengthAdjust="spacingAndGlyphs"><tspan font-size="60.5">(</tspan><tspan font-size="55">b</tspan><tspan font-size="60.5">)</tspan></text>
<text x="787.24" y="712.30" textLength="199.21" lengthAdjust="spacingAndGlyphs"><tspan font-size="55">Window</tspan></text>
<text x="1000.75" y="712.30" textLength="224.22" lengthAdjust="spacingAndGlyphs"><tspan font-size="55">attention</tspan></text>
<text x="1321.85" y="712.30" textLength="66.90" lengthAdjust="spacingAndGlyphs"><tspan font-size="60.5">(</tspan><tspan font-size="55">c</tspan><tspan font-size="60.5">)</tspan></text>
<text x="1404.84" y="712.30" textLength="163.36" lengthAdjust="spacingAndGlyphs"><tspan font-size="55">Global</tspan></text>
<text x="1585.39" y="712.30" textLength="234.04" lengthAdjust="spacingAndGlyphs"><tspan font-size="55">Attention</tspan></text>
<text x="2022.57" y="712.30" textLength="72.05" lengthAdjust="spacingAndGlyphs"><tspan font-size="60.5">(</tspan><tspan font-size="55">d</tspan><tspan font-size="60.5">)</tspan></text>
<text x="2111.16" y="712.30" textLength="224.04" lengthAdjust="spacingAndGlyphs"><tspan font-size="55">B</tspan><tspan font-size="42.9">IG</tspan><tspan font-size="55">B</tspan><tspan font-size="42.9">IRD</tspan></text>
<text x="77.52" y="845.40" textLength="170.03" lengthAdjust="spacingAndGlyphs"><tspan font-size="59">Figure</tspan></text>
<text x="257.08" y="845.40" textLength="52.38" lengthAdjust="spacingAndGlyphs"><tspan font-size="59">1:</tspan></text>
<text x="330.58" y="845.40" textLength="220.62" lengthAdjust="spacingAndGlyphs"><tspan font-size="59">Building</tspan></text>
<text x="568.80" y="845.40" textLength="158.09" lengthAdjust="spacingAndGlyphs"><tspan font-size="59">blocks</tspan></text>
<text x="739.87" y="845.40" textLength="55.43" lengthAdjust="spacingAndGlyphs"><tspan font-size="59">of</tspan></text>
<text x="807.55" y="845.40" textLength="81.77" lengthAdjust="spacingAndGlyphs"><tspan font-size="59">the</tspan></text>
<text x="905.82" y="845.40" textLength="236.40" lengthAdjust="spacingAndGlyphs"><tspan font-size="59">attention</tspan></text>
<text x="1153.97" y="845.40" textLength="288.22" lengthAdjust="spacingAndGlyphs"><tspan font-size="59">mechanism</tspan></text>
<text x="1457.98" y="845.40" textLength="113.37" lengthAdjust="spacingAndGlyphs"><tspan font-size="59">used</tspan></text>
<text x="1585.60" y="845.40" textLength="51.91" lengthAdjust="spacingAndGlyphs"><tspan font-size="59">in</tspan></text>
<text x="1653.32" y="845.40" textLength="258.22" lengthAdjust="spacingAndGlyphs"><tspan font-size="59">B</tspan><tspan font-size="46.0">IG</tspan><tspan font-size="59">B</tspan><tspan font-size="46.0">IRD</tspan><tspan font-size="59">.</tspan></text>
<text x="1936.44" y="845.40" textLength="162.37" lengthAdjust="spacingAndGlyphs"><tspan font-size="59">White</tspan></text>
<text x="2108.25" y="845.40" textLength="126.79" lengthAdjust="spacingAndGlyphs"><tspan font-size="59">color</tspan></text>
<text x="2249.24" y="845.40" textLength="230.71" lengthAdjust="spacingAndGlyphs"><tspan font-size="59">indicates</tspan></text>
<text x="77.09" y="920.40" textLength="208.19" lengthAdjust="spacingAndGlyphs"><tspan font-size="59">absence</tspan></text>
<text x="301.46" y="920.40" textLength="55.54" lengthAdjust="spacingAndGlyphs"><tspan font-size="59">of</tspan></text>
<text x="372.22" y="920.40" textLength="264.84" lengthAdjust="spacingAndGlyphs"><tspan font-size="59">attention.</tspan></text>
<text x="663.89" y="920.40" textLength="75.72" lengthAdjust="spacingAndGlyphs"><tspan font-size="64.9">(</tspan><tspan font-size="59">a</tspan><tspan font-size="64.9">)</tspan></text>
<text x="761.05" y="920.40" textLength="205.90" lengthAdjust="spacingAndGlyphs"><tspan font-size="59">random</tspan></text>
<text x="984.52" y="920.40" textLength="247.15" lengthAdjust="spacingAndGlyphs"><tspan font-size="59">attention</tspan></text>
<text x="1251.73" y="920.40" textLength="119.75" lengthAdjust="spacingAndGlyphs"><tspan font-size="59">with</tspan></text>
<text x="1389.89" y="920.40" textLength="29.89" lengthAdjust="spacingAndGlyphs"><tspan font-size="59" font-style="italic">r</tspan></text>
<rect x="1442.4" y="895.9" width="43.5" height="3.9" fill="#000" fill-opacity="0.40"/>
<rect x="1442.4" y="899.8" width="43.5" height="4.8" fill="#000" fill-opacity="0.28"/>
<rect x="1442.4" y="908.8" width="43.5" height="4.1" fill="#000" fill-opacity="0.55"/>
<rect x="1442.4" y="912.9" width="43.5" height="4.0" fill="#000" fill-opacity="0.07"/>
<text x="1501.56" y="920.40" textLength="53.53" lengthAdjust="spacingAndGlyphs"><tspan font-size="59">2,</tspan></text>
<text x="1577.10" y="920.40" textLength="74.00" lengthAdjust="spacingAndGlyphs"><tspan font-size="64.9">(</tspan><tspan font-size="59">b</tspan><tspan font-size="64.9">)</tspan></text>
<text x="1672.62" y="920.40" textLength="178.03" lengthAdjust="spacingAndGlyphs"><tspan font-size="59">sliding</tspan></text>
<text x="1871.74" y="920.40" textLength="200.53" lengthAdjust="spacingAndGlyphs"><tspan font-size="59">window</tspan></text>
<text x="2094.04" y="920.40" textLength="244.62" lengthAdjust="spacingAndGlyphs"><tspan font-size="59">attention</tspan></text>
<text x="2358.73" y="920.40" textLength="119.75" lengthAdjust="spacingAndGlyphs"><tspan font-size="59">with</tspan></text>
<text x="77.85" y="995.70" textLength="43.23" lengthAdjust="spacingAndGlyphs"><tspan font-size="59" font-style="italic">w</tspan></text>
<rect x="141.8" y="971.2" width="41.2" height="3.9" fill="#000" fill-opacity="0.40"/>
<rect x="141.8" y="975.1" width="41.2" height="4.8" fill="#000" fill-opacity="0.28"/>
<rect x="141.8" y="984.1" width="41.2" height="4.1" fill="#000" fill-opacity="0.55"/>
<rect x="141.8" y="988.2" width="41.2" height="4.0" fill="#000" fill-opacity="0.07"/>
<text x="200.71" y="995.70" textLength="34.38" lengthAdjust="spacingAndGlyphs"><tspan font-size="59">3</tspan></text>
<text x="258.96" y="995.70" textLength="69.19" lengthAdjust="spacingAndGlyphs"><tspan font-size="64.9">(</tspan><tspan font-size="59">c</tspan><tspan font-size="64.9">)</tspan></text>
<text x="347.28" y="995.70" textLength="157.98" lengthAdjust="spacingAndGlyphs"><tspan font-size="59">global</tspan></text>
<text x="526.38" y="995.70" textLength="240.56" lengthAdjust="spacingAndGlyphs"><tspan font-size="59">attention</tspan></text>
<text x="783.44" y="995.70" textLength="116.23" lengthAdjust="spacingAndGlyphs"><tspan font-size="59">with</tspan></text>
<text x="921.17" y="995.70" textLength="33.81" lengthAdjust="spacingAndGlyphs"><tspan font-size="59" font-style="italic">g</tspan></text>
<rect x="971.8" y="971.2" width="44.7" height="3.9" fill="#000" fill-opacity="0.40"/>
<rect x="971.8" y="975.1" width="44.7" height="4.8" fill="#000" fill-opacity="0.28"/>
<rect x="971.8" y="984.1" width="44.7" height="4.1" fill="#000" fill-opacity="0.55"/>
<rect x="971.8" y="988.2" width="44.7" height="4.0" fill="#000" fill-opacity="0.07"/>
<text x="1033.60" y="995.70" textLength="49.56" lengthAdjust="spacingAndGlyphs"><tspan font-size="59">2.</tspan></text>
<text x="1108.75" y="995.70" textLength="77.80" lengthAdjust="spacingAndGlyphs"><tspan font-size="64.9">(</tspan><tspan font-size="59">d</tspan><tspan font-size="64.9">)</tspan></text>
<text x="1207.51" y="995.70" textLength="86.76" lengthAdjust="spacingAndGlyphs"><tspan font-size="59">the</tspan></text>
<text x="1309.37" y="995.70" textLength="251.41" lengthAdjust="spacingAndGlyphs"><tspan font-size="59">combined</tspan></text>
<text x="1581.50" y="995.70" textLength="243.07" lengthAdjust="spacingAndGlyphs"><tspan font-size="59">B</tspan><tspan font-size="46.0">IG</tspan><tspan font-size="59">B</tspan><tspan font-size="46.0">IRD</tspan></text>
<text x="1845.66" y="995.70" textLength="175.03" lengthAdjust="spacingAndGlyphs"><tspan font-size="59">model.</tspan></text>
</svg>
</body></html>
